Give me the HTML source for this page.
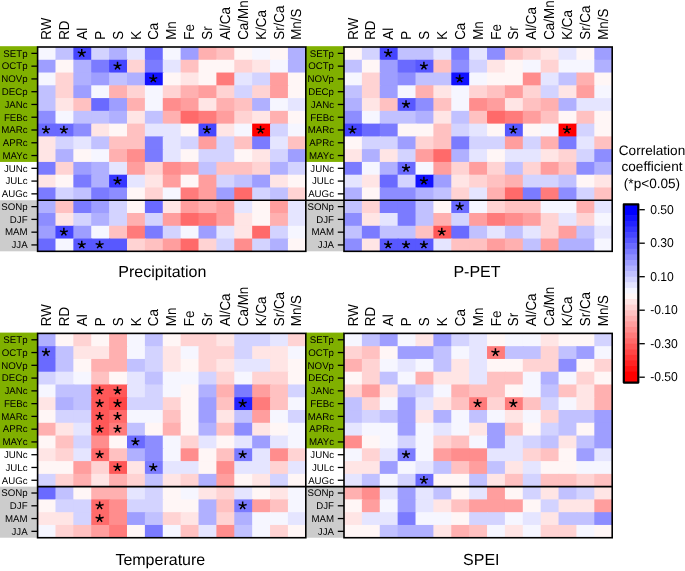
<!DOCTYPE html><html><head><meta charset="utf-8"><style>html,body{margin:0;padding:0;background:#fff;overflow:hidden}svg{display:block;will-change:transform;text-rendering:geometricPrecision;font-family:"Liberation Sans",sans-serif}</style></head><body><svg width="685" height="571" viewBox="0 0 685 571" font-family="&quot;Liberation Sans&quot;, sans-serif"><rect x="0.00" y="46.20" width="37.60" height="115.73" fill="#80b000"/><rect x="0.00" y="200.24" width="37.60" height="51.08" fill="#cccccc"/><rect x="305.80" y="46.20" width="38.20" height="115.73" fill="#80b000"/><rect x="305.80" y="200.24" width="38.20" height="51.08" fill="#cccccc"/><rect x="0.00" y="332.60" width="37.60" height="115.73" fill="#80b000"/><rect x="0.00" y="486.64" width="37.60" height="51.08" fill="#cccccc"/><rect x="305.80" y="332.60" width="38.20" height="115.73" fill="#80b000"/><rect x="305.80" y="486.64" width="38.20" height="51.08" fill="#cccccc"/><g><rect x="37.60" y="47.00" width="18.88" height="13.77" fill="#f6f6ff"/><rect x="55.48" y="47.00" width="18.88" height="13.77" fill="#c1c1ff"/><rect x="73.36" y="47.00" width="18.88" height="13.77" fill="#4646ff"/><rect x="91.24" y="47.00" width="18.88" height="13.77" fill="#d3d3ff"/><rect x="109.12" y="47.00" width="18.88" height="13.77" fill="#b0b0ff"/><rect x="127.00" y="47.00" width="18.88" height="13.77" fill="#e5e5ff"/><rect x="144.88" y="47.00" width="18.88" height="13.77" fill="#6a6aff"/><rect x="162.76" y="47.00" width="18.88" height="13.77" fill="#f6f6ff"/><rect x="180.64" y="47.00" width="18.88" height="13.77" fill="#9e9eff"/><rect x="198.52" y="47.00" width="18.88" height="13.77" fill="#ffb0b0"/><rect x="216.40" y="47.00" width="18.88" height="13.77" fill="#ffc1c1"/><rect x="234.28" y="47.00" width="18.88" height="13.77" fill="#fff6f6"/><rect x="252.16" y="47.00" width="18.88" height="13.77" fill="#f6f6ff"/><rect x="270.04" y="47.00" width="18.88" height="13.77" fill="#fff6f6"/><rect x="287.92" y="47.00" width="17.88" height="13.77" fill="#b0b0ff"/><rect x="37.60" y="59.77" width="18.88" height="13.77" fill="#9e9eff"/><rect x="55.48" y="59.77" width="18.88" height="13.77" fill="#fff6f6"/><rect x="73.36" y="59.77" width="18.88" height="13.77" fill="#b0b0ff"/><rect x="91.24" y="59.77" width="18.88" height="13.77" fill="#7b7bff"/><rect x="109.12" y="59.77" width="18.88" height="13.77" fill="#4646ff"/><rect x="127.00" y="59.77" width="18.88" height="13.77" fill="#ffd3d3"/><rect x="144.88" y="59.77" width="18.88" height="13.77" fill="#7b7bff"/><rect x="162.76" y="59.77" width="18.88" height="13.77" fill="#e5e5ff"/><rect x="180.64" y="59.77" width="18.88" height="13.77" fill="#ffc1c1"/><rect x="198.52" y="59.77" width="18.88" height="13.77" fill="#fff6f6"/><rect x="216.40" y="59.77" width="18.88" height="13.77" fill="#fff6f6"/><rect x="234.28" y="59.77" width="18.88" height="13.77" fill="#ffd3d3"/><rect x="252.16" y="59.77" width="18.88" height="13.77" fill="#ffe5e5"/><rect x="270.04" y="59.77" width="18.88" height="13.77" fill="#f6f6ff"/><rect x="287.92" y="59.77" width="17.88" height="13.77" fill="#b0b0ff"/><rect x="37.60" y="72.54" width="18.88" height="13.77" fill="#f6f6ff"/><rect x="55.48" y="72.54" width="18.88" height="13.77" fill="#ffd3d3"/><rect x="73.36" y="72.54" width="18.88" height="13.77" fill="#b0b0ff"/><rect x="91.24" y="72.54" width="18.88" height="13.77" fill="#9e9eff"/><rect x="109.12" y="72.54" width="18.88" height="13.77" fill="#c1c1ff"/><rect x="127.00" y="72.54" width="18.88" height="13.77" fill="#b0b0ff"/><rect x="144.88" y="72.54" width="18.88" height="13.77" fill="#1212ff"/><rect x="162.76" y="72.54" width="18.88" height="13.77" fill="#fff6f6"/><rect x="180.64" y="72.54" width="18.88" height="13.77" fill="#ffe5e5"/><rect x="198.52" y="72.54" width="18.88" height="13.77" fill="#fff6f6"/><rect x="216.40" y="72.54" width="18.88" height="13.77" fill="#ff7b7b"/><rect x="234.28" y="72.54" width="18.88" height="13.77" fill="#e5e5ff"/><rect x="252.16" y="72.54" width="18.88" height="13.77" fill="#d3d3ff"/><rect x="270.04" y="72.54" width="18.88" height="13.77" fill="#ff9e9e"/><rect x="287.92" y="72.54" width="17.88" height="13.77" fill="#fff6f6"/><rect x="37.60" y="85.31" width="18.88" height="13.77" fill="#c1c1ff"/><rect x="55.48" y="85.31" width="18.88" height="13.77" fill="#ffd3d3"/><rect x="73.36" y="85.31" width="18.88" height="13.77" fill="#9e9eff"/><rect x="91.24" y="85.31" width="18.88" height="13.77" fill="#f6f6ff"/><rect x="109.12" y="85.31" width="18.88" height="13.77" fill="#ffb0b0"/><rect x="127.00" y="85.31" width="18.88" height="13.77" fill="#ffd3d3"/><rect x="144.88" y="85.31" width="18.88" height="13.77" fill="#f6f6ff"/><rect x="162.76" y="85.31" width="18.88" height="13.77" fill="#ffd3d3"/><rect x="180.64" y="85.31" width="18.88" height="13.77" fill="#ffb0b0"/><rect x="198.52" y="85.31" width="18.88" height="13.77" fill="#ff9e9e"/><rect x="216.40" y="85.31" width="18.88" height="13.77" fill="#ffd3d3"/><rect x="234.28" y="85.31" width="18.88" height="13.77" fill="#d3d3ff"/><rect x="252.16" y="85.31" width="18.88" height="13.77" fill="#ffd3d3"/><rect x="270.04" y="85.31" width="18.88" height="13.77" fill="#ff9e9e"/><rect x="287.92" y="85.31" width="17.88" height="13.77" fill="#fff6f6"/><rect x="37.60" y="98.08" width="18.88" height="13.77" fill="#c1c1ff"/><rect x="55.48" y="98.08" width="18.88" height="13.77" fill="#ffe5e5"/><rect x="73.36" y="98.08" width="18.88" height="13.77" fill="#ffc1c1"/><rect x="91.24" y="98.08" width="18.88" height="13.77" fill="#6a6aff"/><rect x="109.12" y="98.08" width="18.88" height="13.77" fill="#9e9eff"/><rect x="127.00" y="98.08" width="18.88" height="13.77" fill="#ffb0b0"/><rect x="144.88" y="98.08" width="18.88" height="13.77" fill="#f6f6ff"/><rect x="162.76" y="98.08" width="18.88" height="13.77" fill="#ff8d8d"/><rect x="180.64" y="98.08" width="18.88" height="13.77" fill="#ff9e9e"/><rect x="198.52" y="98.08" width="18.88" height="13.77" fill="#ffe5e5"/><rect x="216.40" y="98.08" width="18.88" height="13.77" fill="#ffb0b0"/><rect x="234.28" y="98.08" width="18.88" height="13.77" fill="#ffc1c1"/><rect x="252.16" y="98.08" width="18.88" height="13.77" fill="#b0b0ff"/><rect x="270.04" y="98.08" width="18.88" height="13.77" fill="#f6f6ff"/><rect x="287.92" y="98.08" width="17.88" height="13.77" fill="#e5e5ff"/><rect x="37.60" y="110.85" width="18.88" height="13.77" fill="#8d8dff"/><rect x="55.48" y="110.85" width="18.88" height="13.77" fill="#f6f6ff"/><rect x="73.36" y="110.85" width="18.88" height="13.77" fill="#c1c1ff"/><rect x="91.24" y="110.85" width="18.88" height="13.77" fill="#c1c1ff"/><rect x="109.12" y="110.85" width="18.88" height="13.77" fill="#b0b0ff"/><rect x="127.00" y="110.85" width="18.88" height="13.77" fill="#ffe5e5"/><rect x="144.88" y="110.85" width="18.88" height="13.77" fill="#c1c1ff"/><rect x="162.76" y="110.85" width="18.88" height="13.77" fill="#ffb0b0"/><rect x="180.64" y="110.85" width="18.88" height="13.77" fill="#ff6a6a"/><rect x="198.52" y="110.85" width="18.88" height="13.77" fill="#ff7b7b"/><rect x="216.40" y="110.85" width="18.88" height="13.77" fill="#ff9e9e"/><rect x="234.28" y="110.85" width="18.88" height="13.77" fill="#ffd3d3"/><rect x="252.16" y="110.85" width="18.88" height="13.77" fill="#ffe5e5"/><rect x="270.04" y="110.85" width="18.88" height="13.77" fill="#ffb0b0"/><rect x="287.92" y="110.85" width="17.88" height="13.77" fill="#fff6f6"/><rect x="37.60" y="123.62" width="18.88" height="13.77" fill="#6a6aff"/><rect x="55.48" y="123.62" width="18.88" height="13.77" fill="#6a6aff"/><rect x="73.36" y="123.62" width="18.88" height="13.77" fill="#8d8dff"/><rect x="91.24" y="123.62" width="18.88" height="13.77" fill="#ffe5e5"/><rect x="109.12" y="123.62" width="18.88" height="13.77" fill="#fff6f6"/><rect x="127.00" y="123.62" width="18.88" height="13.77" fill="#ffc1c1"/><rect x="144.88" y="123.62" width="18.88" height="13.77" fill="#e5e5ff"/><rect x="162.76" y="123.62" width="18.88" height="13.77" fill="#e5e5ff"/><rect x="180.64" y="123.62" width="18.88" height="13.77" fill="#fff6f6"/><rect x="198.52" y="123.62" width="18.88" height="13.77" fill="#4646ff"/><rect x="216.40" y="123.62" width="18.88" height="13.77" fill="#ffe5e5"/><rect x="234.28" y="123.62" width="18.88" height="13.77" fill="#f6f6ff"/><rect x="252.16" y="123.62" width="18.88" height="13.77" fill="#ff0000"/><rect x="270.04" y="123.62" width="18.88" height="13.77" fill="#d3d3ff"/><rect x="287.92" y="123.62" width="17.88" height="13.77" fill="#f6f6ff"/><rect x="37.60" y="136.39" width="18.88" height="13.77" fill="#ffe5e5"/><rect x="55.48" y="136.39" width="18.88" height="13.77" fill="#d3d3ff"/><rect x="73.36" y="136.39" width="18.88" height="13.77" fill="#e5e5ff"/><rect x="91.24" y="136.39" width="18.88" height="13.77" fill="#c1c1ff"/><rect x="109.12" y="136.39" width="18.88" height="13.77" fill="#ffc1c1"/><rect x="127.00" y="136.39" width="18.88" height="13.77" fill="#ffc1c1"/><rect x="144.88" y="136.39" width="18.88" height="13.77" fill="#7b7bff"/><rect x="162.76" y="136.39" width="18.88" height="13.77" fill="#e5e5ff"/><rect x="180.64" y="136.39" width="18.88" height="13.77" fill="#d3d3ff"/><rect x="198.52" y="136.39" width="18.88" height="13.77" fill="#ff9e9e"/><rect x="216.40" y="136.39" width="18.88" height="13.77" fill="#d3d3ff"/><rect x="234.28" y="136.39" width="18.88" height="13.77" fill="#ffc1c1"/><rect x="252.16" y="136.39" width="18.88" height="13.77" fill="#7b7bff"/><rect x="270.04" y="136.39" width="18.88" height="13.77" fill="#e5e5ff"/><rect x="287.92" y="136.39" width="17.88" height="13.77" fill="#ffc1c1"/><rect x="37.60" y="149.16" width="18.88" height="13.77" fill="#ffe5e5"/><rect x="55.48" y="149.16" width="18.88" height="13.77" fill="#b0b0ff"/><rect x="73.36" y="149.16" width="18.88" height="13.77" fill="#fff6f6"/><rect x="91.24" y="149.16" width="18.88" height="13.77" fill="#f6f6ff"/><rect x="109.12" y="149.16" width="18.88" height="13.77" fill="#ffb0b0"/><rect x="127.00" y="149.16" width="18.88" height="13.77" fill="#ff8d8d"/><rect x="144.88" y="149.16" width="18.88" height="13.77" fill="#7b7bff"/><rect x="162.76" y="149.16" width="18.88" height="13.77" fill="#e5e5ff"/><rect x="180.64" y="149.16" width="18.88" height="13.77" fill="#fff6f6"/><rect x="198.52" y="149.16" width="18.88" height="13.77" fill="#d3d3ff"/><rect x="216.40" y="149.16" width="18.88" height="13.77" fill="#d3d3ff"/><rect x="234.28" y="149.16" width="18.88" height="13.77" fill="#fff6f6"/><rect x="252.16" y="149.16" width="18.88" height="13.77" fill="#ffe5e5"/><rect x="270.04" y="149.16" width="18.88" height="13.77" fill="#d3d3ff"/><rect x="287.92" y="149.16" width="17.88" height="13.77" fill="#9e9eff"/><rect x="37.60" y="161.93" width="18.88" height="13.77" fill="#7b7bff"/><rect x="55.48" y="161.93" width="18.88" height="13.77" fill="#ffd3d3"/><rect x="73.36" y="161.93" width="18.88" height="13.77" fill="#9e9eff"/><rect x="91.24" y="161.93" width="18.88" height="13.77" fill="#b0b0ff"/><rect x="109.12" y="161.93" width="18.88" height="13.77" fill="#e5e5ff"/><rect x="127.00" y="161.93" width="18.88" height="13.77" fill="#ff9e9e"/><rect x="144.88" y="161.93" width="18.88" height="13.77" fill="#ffd3d3"/><rect x="162.76" y="161.93" width="18.88" height="13.77" fill="#ff8d8d"/><rect x="180.64" y="161.93" width="18.88" height="13.77" fill="#ff9e9e"/><rect x="198.52" y="161.93" width="18.88" height="13.77" fill="#c1c1ff"/><rect x="216.40" y="161.93" width="18.88" height="13.77" fill="#ffc1c1"/><rect x="234.28" y="161.93" width="18.88" height="13.77" fill="#ffc1c1"/><rect x="252.16" y="161.93" width="18.88" height="13.77" fill="#ffd3d3"/><rect x="270.04" y="161.93" width="18.88" height="13.77" fill="#b0b0ff"/><rect x="287.92" y="161.93" width="17.88" height="13.77" fill="#d3d3ff"/><rect x="37.60" y="174.70" width="18.88" height="13.77" fill="#ffe5e5"/><rect x="55.48" y="174.70" width="18.88" height="13.77" fill="#fff6f6"/><rect x="73.36" y="174.70" width="18.88" height="13.77" fill="#7b7bff"/><rect x="91.24" y="174.70" width="18.88" height="13.77" fill="#b0b0ff"/><rect x="109.12" y="174.70" width="18.88" height="13.77" fill="#3535ff"/><rect x="127.00" y="174.70" width="18.88" height="13.77" fill="#e5e5ff"/><rect x="144.88" y="174.70" width="18.88" height="13.77" fill="#ffe5e5"/><rect x="162.76" y="174.70" width="18.88" height="13.77" fill="#ff9e9e"/><rect x="180.64" y="174.70" width="18.88" height="13.77" fill="#fff6f6"/><rect x="198.52" y="174.70" width="18.88" height="13.77" fill="#ff9e9e"/><rect x="216.40" y="174.70" width="18.88" height="13.77" fill="#d3d3ff"/><rect x="234.28" y="174.70" width="18.88" height="13.77" fill="#c1c1ff"/><rect x="252.16" y="174.70" width="18.88" height="13.77" fill="#9e9eff"/><rect x="270.04" y="174.70" width="18.88" height="13.77" fill="#ffe5e5"/><rect x="287.92" y="174.70" width="17.88" height="13.77" fill="#fff6f6"/><rect x="37.60" y="187.47" width="18.88" height="13.77" fill="#7b7bff"/><rect x="55.48" y="187.47" width="18.88" height="13.77" fill="#d3d3ff"/><rect x="73.36" y="187.47" width="18.88" height="13.77" fill="#c1c1ff"/><rect x="91.24" y="187.47" width="18.88" height="13.77" fill="#7b7bff"/><rect x="109.12" y="187.47" width="18.88" height="13.77" fill="#8d8dff"/><rect x="127.00" y="187.47" width="18.88" height="13.77" fill="#fff6f6"/><rect x="144.88" y="187.47" width="18.88" height="13.77" fill="#ffd3d3"/><rect x="162.76" y="187.47" width="18.88" height="13.77" fill="#f6f6ff"/><rect x="180.64" y="187.47" width="18.88" height="13.77" fill="#ff7b7b"/><rect x="198.52" y="187.47" width="18.88" height="13.77" fill="#ff9e9e"/><rect x="216.40" y="187.47" width="18.88" height="13.77" fill="#9e9eff"/><rect x="234.28" y="187.47" width="18.88" height="13.77" fill="#ff6a6a"/><rect x="252.16" y="187.47" width="18.88" height="13.77" fill="#d3d3ff"/><rect x="270.04" y="187.47" width="18.88" height="13.77" fill="#c1c1ff"/><rect x="287.92" y="187.47" width="17.88" height="13.77" fill="#ffd3d3"/><rect x="37.60" y="200.24" width="18.88" height="13.77" fill="#b0b0ff"/><rect x="55.48" y="200.24" width="18.88" height="13.77" fill="#ffc1c1"/><rect x="73.36" y="200.24" width="18.88" height="13.77" fill="#7b7bff"/><rect x="91.24" y="200.24" width="18.88" height="13.77" fill="#9e9eff"/><rect x="109.12" y="200.24" width="18.88" height="13.77" fill="#d3d3ff"/><rect x="127.00" y="200.24" width="18.88" height="13.77" fill="#fff6f6"/><rect x="144.88" y="200.24" width="18.88" height="13.77" fill="#6a6aff"/><rect x="162.76" y="200.24" width="18.88" height="13.77" fill="#ffe5e5"/><rect x="180.64" y="200.24" width="18.88" height="13.77" fill="#ff9e9e"/><rect x="198.52" y="200.24" width="18.88" height="13.77" fill="#ffb0b0"/><rect x="216.40" y="200.24" width="18.88" height="13.77" fill="#ff9e9e"/><rect x="234.28" y="200.24" width="18.88" height="13.77" fill="#e5e5ff"/><rect x="252.16" y="200.24" width="18.88" height="13.77" fill="#fff6f6"/><rect x="270.04" y="200.24" width="18.88" height="13.77" fill="#ff9e9e"/><rect x="287.92" y="200.24" width="17.88" height="13.77" fill="#e5e5ff"/><rect x="37.60" y="213.01" width="18.88" height="13.77" fill="#8d8dff"/><rect x="55.48" y="213.01" width="18.88" height="13.77" fill="#ffe5e5"/><rect x="73.36" y="213.01" width="18.88" height="13.77" fill="#d3d3ff"/><rect x="91.24" y="213.01" width="18.88" height="13.77" fill="#b0b0ff"/><rect x="109.12" y="213.01" width="18.88" height="13.77" fill="#d3d3ff"/><rect x="127.00" y="213.01" width="18.88" height="13.77" fill="#ffb0b0"/><rect x="144.88" y="213.01" width="18.88" height="13.77" fill="#d3d3ff"/><rect x="162.76" y="213.01" width="18.88" height="13.77" fill="#ff9e9e"/><rect x="180.64" y="213.01" width="18.88" height="13.77" fill="#ff6a6a"/><rect x="198.52" y="213.01" width="18.88" height="13.77" fill="#ff7b7b"/><rect x="216.40" y="213.01" width="18.88" height="13.77" fill="#ff9e9e"/><rect x="234.28" y="213.01" width="18.88" height="13.77" fill="#ffe5e5"/><rect x="252.16" y="213.01" width="18.88" height="13.77" fill="#fff6f6"/><rect x="270.04" y="213.01" width="18.88" height="13.77" fill="#ffb0b0"/><rect x="287.92" y="213.01" width="17.88" height="13.77" fill="#e5e5ff"/><rect x="37.60" y="225.78" width="18.88" height="13.77" fill="#9e9eff"/><rect x="55.48" y="225.78" width="18.88" height="13.77" fill="#4646ff"/><rect x="73.36" y="225.78" width="18.88" height="13.77" fill="#9e9eff"/><rect x="91.24" y="225.78" width="18.88" height="13.77" fill="#f6f6ff"/><rect x="109.12" y="225.78" width="18.88" height="13.77" fill="#ffc1c1"/><rect x="127.00" y="225.78" width="18.88" height="13.77" fill="#ff7b7b"/><rect x="144.88" y="225.78" width="18.88" height="13.77" fill="#7b7bff"/><rect x="162.76" y="225.78" width="18.88" height="13.77" fill="#d3d3ff"/><rect x="180.64" y="225.78" width="18.88" height="13.77" fill="#f6f6ff"/><rect x="198.52" y="225.78" width="18.88" height="13.77" fill="#9e9eff"/><rect x="216.40" y="225.78" width="18.88" height="13.77" fill="#e5e5ff"/><rect x="234.28" y="225.78" width="18.88" height="13.77" fill="#ffe5e5"/><rect x="252.16" y="225.78" width="18.88" height="13.77" fill="#ff6a6a"/><rect x="270.04" y="225.78" width="18.88" height="13.77" fill="#d3d3ff"/><rect x="287.92" y="225.78" width="17.88" height="13.77" fill="#f6f6ff"/><rect x="37.60" y="238.55" width="18.88" height="12.77" fill="#6a6aff"/><rect x="55.48" y="238.55" width="18.88" height="12.77" fill="#f6f6ff"/><rect x="73.36" y="238.55" width="18.88" height="12.77" fill="#5858ff"/><rect x="91.24" y="238.55" width="18.88" height="12.77" fill="#5858ff"/><rect x="109.12" y="238.55" width="18.88" height="12.77" fill="#5858ff"/><rect x="127.00" y="238.55" width="18.88" height="12.77" fill="#ffd3d3"/><rect x="144.88" y="238.55" width="18.88" height="12.77" fill="#ffc1c1"/><rect x="162.76" y="238.55" width="18.88" height="12.77" fill="#ff9e9e"/><rect x="180.64" y="238.55" width="18.88" height="12.77" fill="#ff6a6a"/><rect x="198.52" y="238.55" width="18.88" height="12.77" fill="#ffd3d3"/><rect x="216.40" y="238.55" width="18.88" height="12.77" fill="#d3d3ff"/><rect x="234.28" y="238.55" width="18.88" height="12.77" fill="#ff8d8d"/><rect x="252.16" y="238.55" width="18.88" height="12.77" fill="#d3d3ff"/><rect x="270.04" y="238.55" width="18.88" height="12.77" fill="#b0b0ff"/><rect x="287.92" y="238.55" width="17.88" height="12.77" fill="#fff6f6"/></g><line x1="37.60" y1="200.24" x2="344.00" y2="200.24" stroke="#000" stroke-width="1.7"/><rect x="37.60" y="47.00" width="268.20" height="204.32" fill="none" stroke="#000" stroke-width="1.6"/><path d="M81.75 53.23L81.75 49.09M81.75 53.23L77.76 52.09M81.75 53.23L79.31 56.59M81.75 53.23L84.19 56.59M81.75 53.23L85.74 52.09" stroke="#000" stroke-width="1.5" fill="none"/><circle cx="81.75" cy="53.23" r="1.25"/><path d="M117.51 66.00L117.51 61.85M117.51 66.00L113.52 64.86M117.51 66.00L115.07 69.36M117.51 66.00L119.95 69.36M117.51 66.00L121.50 64.86" stroke="#000" stroke-width="1.5" fill="none"/><circle cx="117.51" cy="66.00" r="1.25"/><path d="M153.27 78.77L153.27 74.62M153.27 78.77L149.28 77.63M153.27 78.77L150.83 82.13M153.27 78.77L155.71 82.13M153.27 78.77L157.26 77.63" stroke="#000" stroke-width="1.5" fill="none"/><circle cx="153.27" cy="78.77" r="1.25"/><path d="M45.99 129.85L45.99 125.70M45.99 129.85L42.00 128.71M45.99 129.85L43.55 133.21M45.99 129.85L48.43 133.21M45.99 129.85L49.98 128.71" stroke="#000" stroke-width="1.5" fill="none"/><circle cx="45.99" cy="129.85" r="1.25"/><path d="M63.87 129.85L63.87 125.70M63.87 129.85L59.88 128.71M63.87 129.85L61.43 133.21M63.87 129.85L66.31 133.21M63.87 129.85L67.86 128.71" stroke="#000" stroke-width="1.5" fill="none"/><circle cx="63.87" cy="129.85" r="1.25"/><path d="M206.91 129.85L206.91 125.70M206.91 129.85L202.92 128.71M206.91 129.85L204.47 133.21M206.91 129.85L209.35 133.21M206.91 129.85L210.90 128.71" stroke="#000" stroke-width="1.5" fill="none"/><circle cx="206.91" cy="129.85" r="1.25"/><path d="M260.55 129.85L260.55 125.70M260.55 129.85L256.56 128.71M260.55 129.85L258.11 133.21M260.55 129.85L262.99 133.21M260.55 129.85L264.54 128.71" stroke="#000" stroke-width="1.5" fill="none"/><circle cx="260.55" cy="129.85" r="1.25"/><path d="M117.51 180.93L117.51 176.78M117.51 180.93L113.52 179.79M117.51 180.93L115.07 184.29M117.51 180.93L119.95 184.29M117.51 180.93L121.50 179.79" stroke="#000" stroke-width="1.5" fill="none"/><circle cx="117.51" cy="180.93" r="1.25"/><path d="M63.87 232.01L63.87 227.86M63.87 232.01L59.88 230.87M63.87 232.01L61.43 235.37M63.87 232.01L66.31 235.37M63.87 232.01L67.86 230.87" stroke="#000" stroke-width="1.5" fill="none"/><circle cx="63.87" cy="232.01" r="1.25"/><path d="M81.75 244.78L81.75 240.63M81.75 244.78L77.76 243.64M81.75 244.78L79.31 248.14M81.75 244.78L84.19 248.14M81.75 244.78L85.74 243.64" stroke="#000" stroke-width="1.5" fill="none"/><circle cx="81.75" cy="244.78" r="1.25"/><path d="M99.63 244.78L99.63 240.63M99.63 244.78L95.64 243.64M99.63 244.78L97.19 248.14M99.63 244.78L102.07 248.14M99.63 244.78L103.62 243.64" stroke="#000" stroke-width="1.5" fill="none"/><circle cx="99.63" cy="244.78" r="1.25"/><line x1="31.40" y1="53.38" x2="37.60" y2="53.38" stroke="#000" stroke-width="1.3"/><text transform="translate(27.60,56.68)" font-size="9.7" text-anchor="end">SETp</text><line x1="31.40" y1="66.16" x2="37.60" y2="66.16" stroke="#000" stroke-width="1.3"/><text transform="translate(27.60,69.45)" font-size="9.7" text-anchor="end">OCTp</text><line x1="31.40" y1="78.92" x2="37.60" y2="78.92" stroke="#000" stroke-width="1.3"/><text transform="translate(27.60,82.22)" font-size="9.7" text-anchor="end">NOVp</text><line x1="31.40" y1="91.70" x2="37.60" y2="91.70" stroke="#000" stroke-width="1.3"/><text transform="translate(27.60,95.00)" font-size="9.7" text-anchor="end">DECp</text><line x1="31.40" y1="104.47" x2="37.60" y2="104.47" stroke="#000" stroke-width="1.3"/><text transform="translate(27.60,107.77)" font-size="9.7" text-anchor="end">JANc</text><line x1="31.40" y1="117.23" x2="37.60" y2="117.23" stroke="#000" stroke-width="1.3"/><text transform="translate(27.60,120.53)" font-size="9.7" text-anchor="end">FEBc</text><line x1="31.40" y1="130.00" x2="37.60" y2="130.00" stroke="#000" stroke-width="1.3"/><text transform="translate(27.60,133.31)" font-size="9.7" text-anchor="end">MARc</text><line x1="31.40" y1="142.77" x2="37.60" y2="142.77" stroke="#000" stroke-width="1.3"/><text transform="translate(27.60,146.07)" font-size="9.7" text-anchor="end">APRc</text><line x1="31.40" y1="155.54" x2="37.60" y2="155.54" stroke="#000" stroke-width="1.3"/><text transform="translate(27.60,158.84)" font-size="9.7" text-anchor="end">MAYc</text><line x1="31.40" y1="168.31" x2="37.60" y2="168.31" stroke="#000" stroke-width="1.3"/><text transform="translate(27.60,171.62)" font-size="9.7" text-anchor="end">JUNc</text><line x1="31.40" y1="181.08" x2="37.60" y2="181.08" stroke="#000" stroke-width="1.3"/><text transform="translate(27.60,184.38)" font-size="9.7" text-anchor="end">JULc</text><line x1="31.40" y1="193.85" x2="37.60" y2="193.85" stroke="#000" stroke-width="1.3"/><text transform="translate(27.60,197.16)" font-size="9.7" text-anchor="end">AUGc</text><line x1="31.40" y1="206.62" x2="37.60" y2="206.62" stroke="#000" stroke-width="1.3"/><text transform="translate(27.60,209.93)" font-size="9.7" text-anchor="end">SONp</text><line x1="31.40" y1="219.39" x2="37.60" y2="219.39" stroke="#000" stroke-width="1.3"/><text transform="translate(27.60,222.69)" font-size="9.7" text-anchor="end">DJF</text><line x1="31.40" y1="232.16" x2="37.60" y2="232.16" stroke="#000" stroke-width="1.3"/><text transform="translate(27.60,235.47)" font-size="9.7" text-anchor="end">MAM</text><line x1="31.40" y1="244.93" x2="37.60" y2="244.93" stroke="#000" stroke-width="1.3"/><text transform="translate(27.60,248.23)" font-size="9.7" text-anchor="end">JJA</text><text transform="translate(51.14,39.80) rotate(-90) scale(1,1.08)" font-size="13.4">RW</text><text transform="translate(69.02,39.80) rotate(-90) scale(1,1.08)" font-size="13.4">RD</text><text transform="translate(86.90,39.80) rotate(-90) scale(1,1.08)" font-size="13.4">Al</text><text transform="translate(104.78,39.80) rotate(-90) scale(1,1.08)" font-size="13.4">P</text><text transform="translate(122.66,39.80) rotate(-90) scale(1,1.08)" font-size="13.4">S</text><text transform="translate(140.54,39.80) rotate(-90) scale(1,1.08)" font-size="13.4">K</text><text transform="translate(158.42,39.80) rotate(-90) scale(1,1.08)" font-size="13.4">Ca</text><text transform="translate(176.30,39.80) rotate(-90) scale(1,1.08)" font-size="13.4">Mn</text><text transform="translate(194.18,39.80) rotate(-90) scale(1,1.08)" font-size="13.4">Fe</text><text transform="translate(212.06,39.80) rotate(-90) scale(1,1.08)" font-size="13.4">Sr</text><text transform="translate(229.94,39.80) rotate(-90) scale(1,1.08)" font-size="13.4">Al/Ca</text><text transform="translate(247.82,39.80) rotate(-90) scale(1,1.08)" font-size="13.4">Ca/Mn</text><text transform="translate(265.70,39.80) rotate(-90) scale(1,1.08)" font-size="13.4">K/Ca</text><text transform="translate(283.58,39.80) rotate(-90) scale(1,1.08)" font-size="13.4">Sr/Ca</text><text transform="translate(301.46,39.80) rotate(-90) scale(1,1.08)" font-size="13.4">Mn/S</text><text transform="translate(162.30,277.30)" font-size="16" text-anchor="middle">Precipitation</text><g><rect x="344.00" y="47.00" width="18.88" height="13.77" fill="#fff6f6"/><rect x="361.88" y="47.00" width="18.88" height="13.77" fill="#d3d3ff"/><rect x="379.76" y="47.00" width="18.88" height="13.77" fill="#4646ff"/><rect x="397.64" y="47.00" width="18.88" height="13.77" fill="#c1c1ff"/><rect x="415.52" y="47.00" width="18.88" height="13.77" fill="#c1c1ff"/><rect x="433.40" y="47.00" width="18.88" height="13.77" fill="#e5e5ff"/><rect x="451.28" y="47.00" width="18.88" height="13.77" fill="#7b7bff"/><rect x="469.16" y="47.00" width="18.88" height="13.77" fill="#e5e5ff"/><rect x="487.04" y="47.00" width="18.88" height="13.77" fill="#8d8dff"/><rect x="504.92" y="47.00" width="18.88" height="13.77" fill="#ffc1c1"/><rect x="522.80" y="47.00" width="18.88" height="13.77" fill="#ffd3d3"/><rect x="540.68" y="47.00" width="18.88" height="13.77" fill="#ffe5e5"/><rect x="558.56" y="47.00" width="18.88" height="13.77" fill="#e5e5ff"/><rect x="576.44" y="47.00" width="18.88" height="13.77" fill="#fff6f6"/><rect x="594.32" y="47.00" width="17.88" height="13.77" fill="#9e9eff"/><rect x="344.00" y="59.77" width="18.88" height="13.77" fill="#c1c1ff"/><rect x="361.88" y="59.77" width="18.88" height="13.77" fill="#fff6f6"/><rect x="379.76" y="59.77" width="18.88" height="13.77" fill="#9e9eff"/><rect x="397.64" y="59.77" width="18.88" height="13.77" fill="#6a6aff"/><rect x="415.52" y="59.77" width="18.88" height="13.77" fill="#5858ff"/><rect x="433.40" y="59.77" width="18.88" height="13.77" fill="#ffc1c1"/><rect x="451.28" y="59.77" width="18.88" height="13.77" fill="#8d8dff"/><rect x="469.16" y="59.77" width="18.88" height="13.77" fill="#d3d3ff"/><rect x="487.04" y="59.77" width="18.88" height="13.77" fill="#ffe5e5"/><rect x="504.92" y="59.77" width="18.88" height="13.77" fill="#fff6f6"/><rect x="522.80" y="59.77" width="18.88" height="13.77" fill="#f6f6ff"/><rect x="540.68" y="59.77" width="18.88" height="13.77" fill="#ffd3d3"/><rect x="558.56" y="59.77" width="18.88" height="13.77" fill="#f6f6ff"/><rect x="576.44" y="59.77" width="18.88" height="13.77" fill="#f6f6ff"/><rect x="594.32" y="59.77" width="17.88" height="13.77" fill="#b0b0ff"/><rect x="344.00" y="72.54" width="18.88" height="13.77" fill="#f6f6ff"/><rect x="361.88" y="72.54" width="18.88" height="13.77" fill="#ffd3d3"/><rect x="379.76" y="72.54" width="18.88" height="13.77" fill="#9e9eff"/><rect x="397.64" y="72.54" width="18.88" height="13.77" fill="#8d8dff"/><rect x="415.52" y="72.54" width="18.88" height="13.77" fill="#c1c1ff"/><rect x="433.40" y="72.54" width="18.88" height="13.77" fill="#c1c1ff"/><rect x="451.28" y="72.54" width="18.88" height="13.77" fill="#1212ff"/><rect x="469.16" y="72.54" width="18.88" height="13.77" fill="#f6f6ff"/><rect x="487.04" y="72.54" width="18.88" height="13.77" fill="#fff6f6"/><rect x="504.92" y="72.54" width="18.88" height="13.77" fill="#fff6f6"/><rect x="522.80" y="72.54" width="18.88" height="13.77" fill="#ff8d8d"/><rect x="540.68" y="72.54" width="18.88" height="13.77" fill="#e5e5ff"/><rect x="558.56" y="72.54" width="18.88" height="13.77" fill="#c1c1ff"/><rect x="576.44" y="72.54" width="18.88" height="13.77" fill="#ffb0b0"/><rect x="594.32" y="72.54" width="17.88" height="13.77" fill="#fff6f6"/><rect x="344.00" y="85.31" width="18.88" height="13.77" fill="#c1c1ff"/><rect x="361.88" y="85.31" width="18.88" height="13.77" fill="#ffd3d3"/><rect x="379.76" y="85.31" width="18.88" height="13.77" fill="#9e9eff"/><rect x="397.64" y="85.31" width="18.88" height="13.77" fill="#f6f6ff"/><rect x="415.52" y="85.31" width="18.88" height="13.77" fill="#ffb0b0"/><rect x="433.40" y="85.31" width="18.88" height="13.77" fill="#ffe5e5"/><rect x="451.28" y="85.31" width="18.88" height="13.77" fill="#f6f6ff"/><rect x="469.16" y="85.31" width="18.88" height="13.77" fill="#ffd3d3"/><rect x="487.04" y="85.31" width="18.88" height="13.77" fill="#ffc1c1"/><rect x="504.92" y="85.31" width="18.88" height="13.77" fill="#ff9e9e"/><rect x="522.80" y="85.31" width="18.88" height="13.77" fill="#ffd3d3"/><rect x="540.68" y="85.31" width="18.88" height="13.77" fill="#d3d3ff"/><rect x="558.56" y="85.31" width="18.88" height="13.77" fill="#ffe5e5"/><rect x="576.44" y="85.31" width="18.88" height="13.77" fill="#ff9e9e"/><rect x="594.32" y="85.31" width="17.88" height="13.77" fill="#f6f6ff"/><rect x="344.00" y="98.08" width="18.88" height="13.77" fill="#b0b0ff"/><rect x="361.88" y="98.08" width="18.88" height="13.77" fill="#ffe5e5"/><rect x="379.76" y="98.08" width="18.88" height="13.77" fill="#ffc1c1"/><rect x="397.64" y="98.08" width="18.88" height="13.77" fill="#5858ff"/><rect x="415.52" y="98.08" width="18.88" height="13.77" fill="#8d8dff"/><rect x="433.40" y="98.08" width="18.88" height="13.77" fill="#ffc1c1"/><rect x="451.28" y="98.08" width="18.88" height="13.77" fill="#f6f6ff"/><rect x="469.16" y="98.08" width="18.88" height="13.77" fill="#ff8d8d"/><rect x="487.04" y="98.08" width="18.88" height="13.77" fill="#ff9e9e"/><rect x="504.92" y="98.08" width="18.88" height="13.77" fill="#ffe5e5"/><rect x="522.80" y="98.08" width="18.88" height="13.77" fill="#ffc1c1"/><rect x="540.68" y="98.08" width="18.88" height="13.77" fill="#ffb0b0"/><rect x="558.56" y="98.08" width="18.88" height="13.77" fill="#b0b0ff"/><rect x="576.44" y="98.08" width="18.88" height="13.77" fill="#e5e5ff"/><rect x="594.32" y="98.08" width="17.88" height="13.77" fill="#e5e5ff"/><rect x="344.00" y="110.85" width="18.88" height="13.77" fill="#8d8dff"/><rect x="361.88" y="110.85" width="18.88" height="13.77" fill="#f6f6ff"/><rect x="379.76" y="110.85" width="18.88" height="13.77" fill="#c1c1ff"/><rect x="397.64" y="110.85" width="18.88" height="13.77" fill="#c1c1ff"/><rect x="415.52" y="110.85" width="18.88" height="13.77" fill="#b0b0ff"/><rect x="433.40" y="110.85" width="18.88" height="13.77" fill="#ffe5e5"/><rect x="451.28" y="110.85" width="18.88" height="13.77" fill="#c1c1ff"/><rect x="469.16" y="110.85" width="18.88" height="13.77" fill="#ffc1c1"/><rect x="487.04" y="110.85" width="18.88" height="13.77" fill="#ff6a6a"/><rect x="504.92" y="110.85" width="18.88" height="13.77" fill="#ff7b7b"/><rect x="522.80" y="110.85" width="18.88" height="13.77" fill="#ff9e9e"/><rect x="540.68" y="110.85" width="18.88" height="13.77" fill="#ffc1c1"/><rect x="558.56" y="110.85" width="18.88" height="13.77" fill="#fff6f6"/><rect x="576.44" y="110.85" width="18.88" height="13.77" fill="#ffc1c1"/><rect x="594.32" y="110.85" width="17.88" height="13.77" fill="#fff6f6"/><rect x="344.00" y="123.62" width="18.88" height="13.77" fill="#4646ff"/><rect x="361.88" y="123.62" width="18.88" height="13.77" fill="#6a6aff"/><rect x="379.76" y="123.62" width="18.88" height="13.77" fill="#7b7bff"/><rect x="397.64" y="123.62" width="18.88" height="13.77" fill="#fff6f6"/><rect x="415.52" y="123.62" width="18.88" height="13.77" fill="#fff6f6"/><rect x="433.40" y="123.62" width="18.88" height="13.77" fill="#ffc1c1"/><rect x="451.28" y="123.62" width="18.88" height="13.77" fill="#d3d3ff"/><rect x="469.16" y="123.62" width="18.88" height="13.77" fill="#e5e5ff"/><rect x="487.04" y="123.62" width="18.88" height="13.77" fill="#fff6f6"/><rect x="504.92" y="123.62" width="18.88" height="13.77" fill="#5858ff"/><rect x="522.80" y="123.62" width="18.88" height="13.77" fill="#fff6f6"/><rect x="540.68" y="123.62" width="18.88" height="13.77" fill="#f6f6ff"/><rect x="558.56" y="123.62" width="18.88" height="13.77" fill="#ff0000"/><rect x="576.44" y="123.62" width="18.88" height="13.77" fill="#d3d3ff"/><rect x="594.32" y="123.62" width="17.88" height="13.77" fill="#fff6f6"/><rect x="344.00" y="136.39" width="18.88" height="13.77" fill="#fff6f6"/><rect x="361.88" y="136.39" width="18.88" height="13.77" fill="#d3d3ff"/><rect x="379.76" y="136.39" width="18.88" height="13.77" fill="#d3d3ff"/><rect x="397.64" y="136.39" width="18.88" height="13.77" fill="#9e9eff"/><rect x="415.52" y="136.39" width="18.88" height="13.77" fill="#ffd3d3"/><rect x="433.40" y="136.39" width="18.88" height="13.77" fill="#ffc1c1"/><rect x="451.28" y="136.39" width="18.88" height="13.77" fill="#7b7bff"/><rect x="469.16" y="136.39" width="18.88" height="13.77" fill="#d3d3ff"/><rect x="487.04" y="136.39" width="18.88" height="13.77" fill="#d3d3ff"/><rect x="504.92" y="136.39" width="18.88" height="13.77" fill="#ff9e9e"/><rect x="522.80" y="136.39" width="18.88" height="13.77" fill="#d3d3ff"/><rect x="540.68" y="136.39" width="18.88" height="13.77" fill="#ffb0b0"/><rect x="558.56" y="136.39" width="18.88" height="13.77" fill="#7b7bff"/><rect x="576.44" y="136.39" width="18.88" height="13.77" fill="#e5e5ff"/><rect x="594.32" y="136.39" width="17.88" height="13.77" fill="#ffc1c1"/><rect x="344.00" y="149.16" width="18.88" height="13.77" fill="#ffe5e5"/><rect x="361.88" y="149.16" width="18.88" height="13.77" fill="#b0b0ff"/><rect x="379.76" y="149.16" width="18.88" height="13.77" fill="#ffe5e5"/><rect x="397.64" y="149.16" width="18.88" height="13.77" fill="#d3d3ff"/><rect x="415.52" y="149.16" width="18.88" height="13.77" fill="#ff9e9e"/><rect x="433.40" y="149.16" width="18.88" height="13.77" fill="#ff6a6a"/><rect x="451.28" y="149.16" width="18.88" height="13.77" fill="#b0b0ff"/><rect x="469.16" y="149.16" width="18.88" height="13.77" fill="#e5e5ff"/><rect x="487.04" y="149.16" width="18.88" height="13.77" fill="#fff6f6"/><rect x="504.92" y="149.16" width="18.88" height="13.77" fill="#e5e5ff"/><rect x="522.80" y="149.16" width="18.88" height="13.77" fill="#e5e5ff"/><rect x="540.68" y="149.16" width="18.88" height="13.77" fill="#ffe5e5"/><rect x="558.56" y="149.16" width="18.88" height="13.77" fill="#ffd3d3"/><rect x="576.44" y="149.16" width="18.88" height="13.77" fill="#d3d3ff"/><rect x="594.32" y="149.16" width="17.88" height="13.77" fill="#8d8dff"/><rect x="344.00" y="161.93" width="18.88" height="13.77" fill="#7b7bff"/><rect x="361.88" y="161.93" width="18.88" height="13.77" fill="#f6f6ff"/><rect x="379.76" y="161.93" width="18.88" height="13.77" fill="#b0b0ff"/><rect x="397.64" y="161.93" width="18.88" height="13.77" fill="#6a6aff"/><rect x="415.52" y="161.93" width="18.88" height="13.77" fill="#f6f6ff"/><rect x="433.40" y="161.93" width="18.88" height="13.77" fill="#ff9e9e"/><rect x="451.28" y="161.93" width="18.88" height="13.77" fill="#ffd3d3"/><rect x="469.16" y="161.93" width="18.88" height="13.77" fill="#ff9e9e"/><rect x="487.04" y="161.93" width="18.88" height="13.77" fill="#ffd3d3"/><rect x="504.92" y="161.93" width="18.88" height="13.77" fill="#c1c1ff"/><rect x="522.80" y="161.93" width="18.88" height="13.77" fill="#ffd3d3"/><rect x="540.68" y="161.93" width="18.88" height="13.77" fill="#ff9e9e"/><rect x="558.56" y="161.93" width="18.88" height="13.77" fill="#ffc1c1"/><rect x="576.44" y="161.93" width="18.88" height="13.77" fill="#8d8dff"/><rect x="594.32" y="161.93" width="17.88" height="13.77" fill="#b0b0ff"/><rect x="344.00" y="174.70" width="18.88" height="13.77" fill="#e5e5ff"/><rect x="361.88" y="174.70" width="18.88" height="13.77" fill="#ffe5e5"/><rect x="379.76" y="174.70" width="18.88" height="13.77" fill="#6a6aff"/><rect x="397.64" y="174.70" width="18.88" height="13.77" fill="#d3d3ff"/><rect x="415.52" y="174.70" width="18.88" height="13.77" fill="#1212ff"/><rect x="433.40" y="174.70" width="18.88" height="13.77" fill="#9e9eff"/><rect x="451.28" y="174.70" width="18.88" height="13.77" fill="#ffe5e5"/><rect x="469.16" y="174.70" width="18.88" height="13.77" fill="#ffd3d3"/><rect x="487.04" y="174.70" width="18.88" height="13.77" fill="#ffc1c1"/><rect x="504.92" y="174.70" width="18.88" height="13.77" fill="#ffb0b0"/><rect x="522.80" y="174.70" width="18.88" height="13.77" fill="#d3d3ff"/><rect x="540.68" y="174.70" width="18.88" height="13.77" fill="#d3d3ff"/><rect x="558.56" y="174.70" width="18.88" height="13.77" fill="#c1c1ff"/><rect x="576.44" y="174.70" width="18.88" height="13.77" fill="#fff6f6"/><rect x="594.32" y="174.70" width="17.88" height="13.77" fill="#ffe5e5"/><rect x="344.00" y="187.47" width="18.88" height="13.77" fill="#b0b0ff"/><rect x="361.88" y="187.47" width="18.88" height="13.77" fill="#fff6f6"/><rect x="379.76" y="187.47" width="18.88" height="13.77" fill="#8d8dff"/><rect x="397.64" y="187.47" width="18.88" height="13.77" fill="#8d8dff"/><rect x="415.52" y="187.47" width="18.88" height="13.77" fill="#b0b0ff"/><rect x="433.40" y="187.47" width="18.88" height="13.77" fill="#c1c1ff"/><rect x="451.28" y="187.47" width="18.88" height="13.77" fill="#ffd3d3"/><rect x="469.16" y="187.47" width="18.88" height="13.77" fill="#e5e5ff"/><rect x="487.04" y="187.47" width="18.88" height="13.77" fill="#ffb0b0"/><rect x="504.92" y="187.47" width="18.88" height="13.77" fill="#ff6a6a"/><rect x="522.80" y="187.47" width="18.88" height="13.77" fill="#7b7bff"/><rect x="540.68" y="187.47" width="18.88" height="13.77" fill="#ff7b7b"/><rect x="558.56" y="187.47" width="18.88" height="13.77" fill="#8d8dff"/><rect x="576.44" y="187.47" width="18.88" height="13.77" fill="#d3d3ff"/><rect x="594.32" y="187.47" width="17.88" height="13.77" fill="#ffc1c1"/><rect x="344.00" y="200.24" width="18.88" height="13.77" fill="#c1c1ff"/><rect x="361.88" y="200.24" width="18.88" height="13.77" fill="#ffd3d3"/><rect x="379.76" y="200.24" width="18.88" height="13.77" fill="#7b7bff"/><rect x="397.64" y="200.24" width="18.88" height="13.77" fill="#7b7bff"/><rect x="415.52" y="200.24" width="18.88" height="13.77" fill="#c1c1ff"/><rect x="433.40" y="200.24" width="18.88" height="13.77" fill="#fff6f6"/><rect x="451.28" y="200.24" width="18.88" height="13.77" fill="#6a6aff"/><rect x="469.16" y="200.24" width="18.88" height="13.77" fill="#f6f6ff"/><rect x="487.04" y="200.24" width="18.88" height="13.77" fill="#ffd3d3"/><rect x="504.92" y="200.24" width="18.88" height="13.77" fill="#ffc1c1"/><rect x="522.80" y="200.24" width="18.88" height="13.77" fill="#ffc1c1"/><rect x="540.68" y="200.24" width="18.88" height="13.77" fill="#f6f6ff"/><rect x="558.56" y="200.24" width="18.88" height="13.77" fill="#f6f6ff"/><rect x="576.44" y="200.24" width="18.88" height="13.77" fill="#ffb0b0"/><rect x="594.32" y="200.24" width="17.88" height="13.77" fill="#e5e5ff"/><rect x="344.00" y="213.01" width="18.88" height="13.77" fill="#8d8dff"/><rect x="361.88" y="213.01" width="18.88" height="13.77" fill="#ffe5e5"/><rect x="379.76" y="213.01" width="18.88" height="13.77" fill="#e5e5ff"/><rect x="397.64" y="213.01" width="18.88" height="13.77" fill="#7b7bff"/><rect x="415.52" y="213.01" width="18.88" height="13.77" fill="#c1c1ff"/><rect x="433.40" y="213.01" width="18.88" height="13.77" fill="#ffb0b0"/><rect x="451.28" y="213.01" width="18.88" height="13.77" fill="#d3d3ff"/><rect x="469.16" y="213.01" width="18.88" height="13.77" fill="#ff9e9e"/><rect x="487.04" y="213.01" width="18.88" height="13.77" fill="#ff7b7b"/><rect x="504.92" y="213.01" width="18.88" height="13.77" fill="#ff8d8d"/><rect x="522.80" y="213.01" width="18.88" height="13.77" fill="#ff9e9e"/><rect x="540.68" y="213.01" width="18.88" height="13.77" fill="#ffd3d3"/><rect x="558.56" y="213.01" width="18.88" height="13.77" fill="#e5e5ff"/><rect x="576.44" y="213.01" width="18.88" height="13.77" fill="#ffd3d3"/><rect x="594.32" y="213.01" width="17.88" height="13.77" fill="#f6f6ff"/><rect x="344.00" y="225.78" width="18.88" height="13.77" fill="#c1c1ff"/><rect x="361.88" y="225.78" width="18.88" height="13.77" fill="#7b7bff"/><rect x="379.76" y="225.78" width="18.88" height="13.77" fill="#c1c1ff"/><rect x="397.64" y="225.78" width="18.88" height="13.77" fill="#c1c1ff"/><rect x="415.52" y="225.78" width="18.88" height="13.77" fill="#ffc1c1"/><rect x="433.40" y="225.78" width="18.88" height="13.77" fill="#ff5858"/><rect x="451.28" y="225.78" width="18.88" height="13.77" fill="#6a6aff"/><rect x="469.16" y="225.78" width="18.88" height="13.77" fill="#c1c1ff"/><rect x="487.04" y="225.78" width="18.88" height="13.77" fill="#e5e5ff"/><rect x="504.92" y="225.78" width="18.88" height="13.77" fill="#c1c1ff"/><rect x="522.80" y="225.78" width="18.88" height="13.77" fill="#e5e5ff"/><rect x="540.68" y="225.78" width="18.88" height="13.77" fill="#ffd3d3"/><rect x="558.56" y="225.78" width="18.88" height="13.77" fill="#ff9e9e"/><rect x="576.44" y="225.78" width="18.88" height="13.77" fill="#c1c1ff"/><rect x="594.32" y="225.78" width="17.88" height="13.77" fill="#e5e5ff"/><rect x="344.00" y="238.55" width="18.88" height="12.77" fill="#8d8dff"/><rect x="361.88" y="238.55" width="18.88" height="12.77" fill="#ffe5e5"/><rect x="379.76" y="238.55" width="18.88" height="12.77" fill="#5858ff"/><rect x="397.64" y="238.55" width="18.88" height="12.77" fill="#5858ff"/><rect x="415.52" y="238.55" width="18.88" height="12.77" fill="#5858ff"/><rect x="433.40" y="238.55" width="18.88" height="12.77" fill="#e5e5ff"/><rect x="451.28" y="238.55" width="18.88" height="12.77" fill="#ffc1c1"/><rect x="469.16" y="238.55" width="18.88" height="12.77" fill="#ffc1c1"/><rect x="487.04" y="238.55" width="18.88" height="12.77" fill="#ff9e9e"/><rect x="504.92" y="238.55" width="18.88" height="12.77" fill="#ffb0b0"/><rect x="522.80" y="238.55" width="18.88" height="12.77" fill="#c1c1ff"/><rect x="540.68" y="238.55" width="18.88" height="12.77" fill="#ff9e9e"/><rect x="558.56" y="238.55" width="18.88" height="12.77" fill="#b0b0ff"/><rect x="576.44" y="238.55" width="18.88" height="12.77" fill="#b0b0ff"/><rect x="594.32" y="238.55" width="17.88" height="12.77" fill="#f6f6ff"/></g><line x1="344.00" y1="200.24" x2="612.20" y2="200.24" stroke="#000" stroke-width="1.7"/><rect x="344.00" y="47.00" width="268.20" height="204.32" fill="none" stroke="#000" stroke-width="1.6"/><path d="M388.15 53.23L388.15 49.09M388.15 53.23L384.16 52.09M388.15 53.23L385.71 56.59M388.15 53.23L390.59 56.59M388.15 53.23L392.14 52.09" stroke="#000" stroke-width="1.5" fill="none"/><circle cx="388.15" cy="53.23" r="1.25"/><path d="M423.91 66.00L423.91 61.85M423.91 66.00L419.92 64.86M423.91 66.00L421.47 69.36M423.91 66.00L426.35 69.36M423.91 66.00L427.90 64.86" stroke="#000" stroke-width="1.5" fill="none"/><circle cx="423.91" cy="66.00" r="1.25"/><path d="M459.67 78.77L459.67 74.62M459.67 78.77L455.68 77.63M459.67 78.77L457.23 82.13M459.67 78.77L462.11 82.13M459.67 78.77L463.66 77.63" stroke="#000" stroke-width="1.5" fill="none"/><circle cx="459.67" cy="78.77" r="1.25"/><path d="M406.03 104.31L406.03 100.16M406.03 104.31L402.04 103.17M406.03 104.31L403.59 107.67M406.03 104.31L408.47 107.67M406.03 104.31L410.02 103.17" stroke="#000" stroke-width="1.5" fill="none"/><circle cx="406.03" cy="104.31" r="1.25"/><path d="M352.39 129.85L352.39 125.70M352.39 129.85L348.40 128.71M352.39 129.85L349.95 133.21M352.39 129.85L354.83 133.21M352.39 129.85L356.38 128.71" stroke="#000" stroke-width="1.5" fill="none"/><circle cx="352.39" cy="129.85" r="1.25"/><path d="M513.31 129.85L513.31 125.70M513.31 129.85L509.32 128.71M513.31 129.85L510.87 133.21M513.31 129.85L515.75 133.21M513.31 129.85L517.30 128.71" stroke="#000" stroke-width="1.5" fill="none"/><circle cx="513.31" cy="129.85" r="1.25"/><path d="M566.95 129.85L566.95 125.70M566.95 129.85L562.96 128.71M566.95 129.85L564.51 133.21M566.95 129.85L569.39 133.21M566.95 129.85L570.94 128.71" stroke="#000" stroke-width="1.5" fill="none"/><circle cx="566.95" cy="129.85" r="1.25"/><path d="M406.03 168.16L406.03 164.01M406.03 168.16L402.04 167.02M406.03 168.16L403.59 171.52M406.03 168.16L408.47 171.52M406.03 168.16L410.02 167.02" stroke="#000" stroke-width="1.5" fill="none"/><circle cx="406.03" cy="168.16" r="1.25"/><path d="M423.91 180.93L423.91 176.78M423.91 180.93L419.92 179.79M423.91 180.93L421.47 184.29M423.91 180.93L426.35 184.29M423.91 180.93L427.90 179.79" stroke="#000" stroke-width="1.5" fill="none"/><circle cx="423.91" cy="180.93" r="1.25"/><path d="M459.67 206.47L459.67 202.32M459.67 206.47L455.68 205.33M459.67 206.47L457.23 209.83M459.67 206.47L462.11 209.83M459.67 206.47L463.66 205.33" stroke="#000" stroke-width="1.5" fill="none"/><circle cx="459.67" cy="206.47" r="1.25"/><path d="M441.79 232.01L441.79 227.86M441.79 232.01L437.80 230.87M441.79 232.01L439.35 235.37M441.79 232.01L444.23 235.37M441.79 232.01L445.78 230.87" stroke="#000" stroke-width="1.5" fill="none"/><circle cx="441.79" cy="232.01" r="1.25"/><path d="M388.15 244.78L388.15 240.63M388.15 244.78L384.16 243.64M388.15 244.78L385.71 248.14M388.15 244.78L390.59 248.14M388.15 244.78L392.14 243.64" stroke="#000" stroke-width="1.5" fill="none"/><circle cx="388.15" cy="244.78" r="1.25"/><path d="M406.03 244.78L406.03 240.63M406.03 244.78L402.04 243.64M406.03 244.78L403.59 248.14M406.03 244.78L408.47 248.14M406.03 244.78L410.02 243.64" stroke="#000" stroke-width="1.5" fill="none"/><circle cx="406.03" cy="244.78" r="1.25"/><path d="M423.91 244.78L423.91 240.63M423.91 244.78L419.92 243.64M423.91 244.78L421.47 248.14M423.91 244.78L426.35 248.14M423.91 244.78L427.90 243.64" stroke="#000" stroke-width="1.5" fill="none"/><circle cx="423.91" cy="244.78" r="1.25"/><line x1="337.80" y1="53.38" x2="344.00" y2="53.38" stroke="#000" stroke-width="1.3"/><text transform="translate(334.00,56.68)" font-size="9.7" text-anchor="end">SETp</text><line x1="337.80" y1="66.16" x2="344.00" y2="66.16" stroke="#000" stroke-width="1.3"/><text transform="translate(334.00,69.45)" font-size="9.7" text-anchor="end">OCTp</text><line x1="337.80" y1="78.92" x2="344.00" y2="78.92" stroke="#000" stroke-width="1.3"/><text transform="translate(334.00,82.22)" font-size="9.7" text-anchor="end">NOVp</text><line x1="337.80" y1="91.70" x2="344.00" y2="91.70" stroke="#000" stroke-width="1.3"/><text transform="translate(334.00,95.00)" font-size="9.7" text-anchor="end">DECp</text><line x1="337.80" y1="104.47" x2="344.00" y2="104.47" stroke="#000" stroke-width="1.3"/><text transform="translate(334.00,107.77)" font-size="9.7" text-anchor="end">JANc</text><line x1="337.80" y1="117.23" x2="344.00" y2="117.23" stroke="#000" stroke-width="1.3"/><text transform="translate(334.00,120.53)" font-size="9.7" text-anchor="end">FEBc</text><line x1="337.80" y1="130.00" x2="344.00" y2="130.00" stroke="#000" stroke-width="1.3"/><text transform="translate(334.00,133.31)" font-size="9.7" text-anchor="end">MARc</text><line x1="337.80" y1="142.77" x2="344.00" y2="142.77" stroke="#000" stroke-width="1.3"/><text transform="translate(334.00,146.07)" font-size="9.7" text-anchor="end">APRc</text><line x1="337.80" y1="155.54" x2="344.00" y2="155.54" stroke="#000" stroke-width="1.3"/><text transform="translate(334.00,158.84)" font-size="9.7" text-anchor="end">MAYc</text><line x1="337.80" y1="168.31" x2="344.00" y2="168.31" stroke="#000" stroke-width="1.3"/><text transform="translate(334.00,171.62)" font-size="9.7" text-anchor="end">JUNc</text><line x1="337.80" y1="181.08" x2="344.00" y2="181.08" stroke="#000" stroke-width="1.3"/><text transform="translate(334.00,184.38)" font-size="9.7" text-anchor="end">JULc</text><line x1="337.80" y1="193.85" x2="344.00" y2="193.85" stroke="#000" stroke-width="1.3"/><text transform="translate(334.00,197.16)" font-size="9.7" text-anchor="end">AUGc</text><line x1="337.80" y1="206.62" x2="344.00" y2="206.62" stroke="#000" stroke-width="1.3"/><text transform="translate(334.00,209.93)" font-size="9.7" text-anchor="end">SONp</text><line x1="337.80" y1="219.39" x2="344.00" y2="219.39" stroke="#000" stroke-width="1.3"/><text transform="translate(334.00,222.69)" font-size="9.7" text-anchor="end">DJF</text><line x1="337.80" y1="232.16" x2="344.00" y2="232.16" stroke="#000" stroke-width="1.3"/><text transform="translate(334.00,235.47)" font-size="9.7" text-anchor="end">MAM</text><line x1="337.80" y1="244.93" x2="344.00" y2="244.93" stroke="#000" stroke-width="1.3"/><text transform="translate(334.00,248.23)" font-size="9.7" text-anchor="end">JJA</text><text transform="translate(357.54,39.80) rotate(-90) scale(1,1.08)" font-size="13.4">RW</text><text transform="translate(375.42,39.80) rotate(-90) scale(1,1.08)" font-size="13.4">RD</text><text transform="translate(393.30,39.80) rotate(-90) scale(1,1.08)" font-size="13.4">Al</text><text transform="translate(411.18,39.80) rotate(-90) scale(1,1.08)" font-size="13.4">P</text><text transform="translate(429.06,39.80) rotate(-90) scale(1,1.08)" font-size="13.4">S</text><text transform="translate(446.94,39.80) rotate(-90) scale(1,1.08)" font-size="13.4">K</text><text transform="translate(464.82,39.80) rotate(-90) scale(1,1.08)" font-size="13.4">Ca</text><text transform="translate(482.70,39.80) rotate(-90) scale(1,1.08)" font-size="13.4">Mn</text><text transform="translate(500.58,39.80) rotate(-90) scale(1,1.08)" font-size="13.4">Fe</text><text transform="translate(518.46,39.80) rotate(-90) scale(1,1.08)" font-size="13.4">Sr</text><text transform="translate(536.34,39.80) rotate(-90) scale(1,1.08)" font-size="13.4">Al/Ca</text><text transform="translate(554.22,39.80) rotate(-90) scale(1,1.08)" font-size="13.4">Ca/Mn</text><text transform="translate(572.10,39.80) rotate(-90) scale(1,1.08)" font-size="13.4">K/Ca</text><text transform="translate(589.98,39.80) rotate(-90) scale(1,1.08)" font-size="13.4">Sr/Ca</text><text transform="translate(607.86,39.80) rotate(-90) scale(1,1.08)" font-size="13.4">Mn/S</text><text transform="translate(477.00,277.30)" font-size="16" text-anchor="middle">P-PET</text><g><rect x="37.60" y="333.40" width="18.88" height="13.77" fill="#b0b0ff"/><rect x="55.48" y="333.40" width="18.88" height="13.77" fill="#fff6f6"/><rect x="73.36" y="333.40" width="18.88" height="13.77" fill="#ffd3d3"/><rect x="91.24" y="333.40" width="18.88" height="13.77" fill="#fff6f6"/><rect x="109.12" y="333.40" width="18.88" height="13.77" fill="#ffb0b0"/><rect x="127.00" y="333.40" width="18.88" height="13.77" fill="#f6f6ff"/><rect x="144.88" y="333.40" width="18.88" height="13.77" fill="#c1c1ff"/><rect x="162.76" y="333.40" width="18.88" height="13.77" fill="#fff6f6"/><rect x="180.64" y="333.40" width="18.88" height="13.77" fill="#ffd3d3"/><rect x="198.52" y="333.40" width="18.88" height="13.77" fill="#ffd3d3"/><rect x="216.40" y="333.40" width="18.88" height="13.77" fill="#ffe5e5"/><rect x="234.28" y="333.40" width="18.88" height="13.77" fill="#d3d3ff"/><rect x="252.16" y="333.40" width="18.88" height="13.77" fill="#d3d3ff"/><rect x="270.04" y="333.40" width="18.88" height="13.77" fill="#e5e5ff"/><rect x="287.92" y="333.40" width="17.88" height="13.77" fill="#ffd3d3"/><rect x="37.60" y="346.17" width="18.88" height="13.77" fill="#6a6aff"/><rect x="55.48" y="346.17" width="18.88" height="13.77" fill="#c1c1ff"/><rect x="73.36" y="346.17" width="18.88" height="13.77" fill="#ffe5e5"/><rect x="91.24" y="346.17" width="18.88" height="13.77" fill="#ffe5e5"/><rect x="109.12" y="346.17" width="18.88" height="13.77" fill="#ffb0b0"/><rect x="127.00" y="346.17" width="18.88" height="13.77" fill="#f6f6ff"/><rect x="144.88" y="346.17" width="18.88" height="13.77" fill="#d3d3ff"/><rect x="162.76" y="346.17" width="18.88" height="13.77" fill="#ffe5e5"/><rect x="180.64" y="346.17" width="18.88" height="13.77" fill="#f6f6ff"/><rect x="198.52" y="346.17" width="18.88" height="13.77" fill="#ffd3d3"/><rect x="216.40" y="346.17" width="18.88" height="13.77" fill="#ffd3d3"/><rect x="234.28" y="346.17" width="18.88" height="13.77" fill="#d3d3ff"/><rect x="252.16" y="346.17" width="18.88" height="13.77" fill="#ffe5e5"/><rect x="270.04" y="346.17" width="18.88" height="13.77" fill="#ffe5e5"/><rect x="287.92" y="346.17" width="17.88" height="13.77" fill="#f6f6ff"/><rect x="37.60" y="358.94" width="18.88" height="13.77" fill="#6a6aff"/><rect x="55.48" y="358.94" width="18.88" height="13.77" fill="#c1c1ff"/><rect x="73.36" y="358.94" width="18.88" height="13.77" fill="#fff6f6"/><rect x="91.24" y="358.94" width="18.88" height="13.77" fill="#ffb0b0"/><rect x="109.12" y="358.94" width="18.88" height="13.77" fill="#ffb0b0"/><rect x="127.00" y="358.94" width="18.88" height="13.77" fill="#c1c1ff"/><rect x="144.88" y="358.94" width="18.88" height="13.77" fill="#d3d3ff"/><rect x="162.76" y="358.94" width="18.88" height="13.77" fill="#ffe5e5"/><rect x="180.64" y="358.94" width="18.88" height="13.77" fill="#fff6f6"/><rect x="198.52" y="358.94" width="18.88" height="13.77" fill="#ffd3d3"/><rect x="216.40" y="358.94" width="18.88" height="13.77" fill="#ffe5e5"/><rect x="234.28" y="358.94" width="18.88" height="13.77" fill="#e5e5ff"/><rect x="252.16" y="358.94" width="18.88" height="13.77" fill="#e5e5ff"/><rect x="270.04" y="358.94" width="18.88" height="13.77" fill="#ffe5e5"/><rect x="287.92" y="358.94" width="17.88" height="13.77" fill="#fff6f6"/><rect x="37.60" y="371.71" width="18.88" height="13.77" fill="#d3d3ff"/><rect x="55.48" y="371.71" width="18.88" height="13.77" fill="#e5e5ff"/><rect x="73.36" y="371.71" width="18.88" height="13.77" fill="#f6f6ff"/><rect x="91.24" y="371.71" width="18.88" height="13.77" fill="#ffc1c1"/><rect x="109.12" y="371.71" width="18.88" height="13.77" fill="#fff6f6"/><rect x="127.00" y="371.71" width="18.88" height="13.77" fill="#e5e5ff"/><rect x="144.88" y="371.71" width="18.88" height="13.77" fill="#c1c1ff"/><rect x="162.76" y="371.71" width="18.88" height="13.77" fill="#f6f6ff"/><rect x="180.64" y="371.71" width="18.88" height="13.77" fill="#f6f6ff"/><rect x="198.52" y="371.71" width="18.88" height="13.77" fill="#d3d3ff"/><rect x="216.40" y="371.71" width="18.88" height="13.77" fill="#ffd3d3"/><rect x="234.28" y="371.71" width="18.88" height="13.77" fill="#f6f6ff"/><rect x="252.16" y="371.71" width="18.88" height="13.77" fill="#ffd3d3"/><rect x="270.04" y="371.71" width="18.88" height="13.77" fill="#ffd3d3"/><rect x="287.92" y="371.71" width="17.88" height="13.77" fill="#fff6f6"/><rect x="37.60" y="384.48" width="18.88" height="13.77" fill="#f6f6ff"/><rect x="55.48" y="384.48" width="18.88" height="13.77" fill="#c1c1ff"/><rect x="73.36" y="384.48" width="18.88" height="13.77" fill="#c1c1ff"/><rect x="91.24" y="384.48" width="18.88" height="13.77" fill="#ff5858"/><rect x="109.12" y="384.48" width="18.88" height="13.77" fill="#ff5858"/><rect x="127.00" y="384.48" width="18.88" height="13.77" fill="#e5e5ff"/><rect x="144.88" y="384.48" width="18.88" height="13.77" fill="#d3d3ff"/><rect x="162.76" y="384.48" width="18.88" height="13.77" fill="#f6f6ff"/><rect x="180.64" y="384.48" width="18.88" height="13.77" fill="#fff6f6"/><rect x="198.52" y="384.48" width="18.88" height="13.77" fill="#b0b0ff"/><rect x="216.40" y="384.48" width="18.88" height="13.77" fill="#ffb0b0"/><rect x="234.28" y="384.48" width="18.88" height="13.77" fill="#7b7bff"/><rect x="252.16" y="384.48" width="18.88" height="13.77" fill="#ff9e9e"/><rect x="270.04" y="384.48" width="18.88" height="13.77" fill="#ffc1c1"/><rect x="287.92" y="384.48" width="17.88" height="13.77" fill="#d3d3ff"/><rect x="37.60" y="397.25" width="18.88" height="13.77" fill="#ffe5e5"/><rect x="55.48" y="397.25" width="18.88" height="13.77" fill="#b0b0ff"/><rect x="73.36" y="397.25" width="18.88" height="13.77" fill="#c1c1ff"/><rect x="91.24" y="397.25" width="18.88" height="13.77" fill="#ff5858"/><rect x="109.12" y="397.25" width="18.88" height="13.77" fill="#ff4646"/><rect x="127.00" y="397.25" width="18.88" height="13.77" fill="#d3d3ff"/><rect x="144.88" y="397.25" width="18.88" height="13.77" fill="#d3d3ff"/><rect x="162.76" y="397.25" width="18.88" height="13.77" fill="#ffd3d3"/><rect x="180.64" y="397.25" width="18.88" height="13.77" fill="#fff6f6"/><rect x="198.52" y="397.25" width="18.88" height="13.77" fill="#9e9eff"/><rect x="216.40" y="397.25" width="18.88" height="13.77" fill="#ffc1c1"/><rect x="234.28" y="397.25" width="18.88" height="13.77" fill="#2323ff"/><rect x="252.16" y="397.25" width="18.88" height="13.77" fill="#ff7b7b"/><rect x="270.04" y="397.25" width="18.88" height="13.77" fill="#ffc1c1"/><rect x="287.92" y="397.25" width="17.88" height="13.77" fill="#f6f6ff"/><rect x="37.60" y="410.02" width="18.88" height="13.77" fill="#fff6f6"/><rect x="55.48" y="410.02" width="18.88" height="13.77" fill="#d3d3ff"/><rect x="73.36" y="410.02" width="18.88" height="13.77" fill="#d3d3ff"/><rect x="91.24" y="410.02" width="18.88" height="13.77" fill="#ff5858"/><rect x="109.12" y="410.02" width="18.88" height="13.77" fill="#ff6a6a"/><rect x="127.00" y="410.02" width="18.88" height="13.77" fill="#f6f6ff"/><rect x="144.88" y="410.02" width="18.88" height="13.77" fill="#f6f6ff"/><rect x="162.76" y="410.02" width="18.88" height="13.77" fill="#ffc1c1"/><rect x="180.64" y="410.02" width="18.88" height="13.77" fill="#fff6f6"/><rect x="198.52" y="410.02" width="18.88" height="13.77" fill="#9e9eff"/><rect x="216.40" y="410.02" width="18.88" height="13.77" fill="#ffe5e5"/><rect x="234.28" y="410.02" width="18.88" height="13.77" fill="#c1c1ff"/><rect x="252.16" y="410.02" width="18.88" height="13.77" fill="#ff9e9e"/><rect x="270.04" y="410.02" width="18.88" height="13.77" fill="#f6f6ff"/><rect x="287.92" y="410.02" width="17.88" height="13.77" fill="#d3d3ff"/><rect x="37.60" y="422.79" width="18.88" height="13.77" fill="#ffb0b0"/><rect x="55.48" y="422.79" width="18.88" height="13.77" fill="#ffe5e5"/><rect x="73.36" y="422.79" width="18.88" height="13.77" fill="#e5e5ff"/><rect x="91.24" y="422.79" width="18.88" height="13.77" fill="#ff5858"/><rect x="109.12" y="422.79" width="18.88" height="13.77" fill="#ff7b7b"/><rect x="127.00" y="422.79" width="18.88" height="13.77" fill="#c1c1ff"/><rect x="144.88" y="422.79" width="18.88" height="13.77" fill="#fff6f6"/><rect x="162.76" y="422.79" width="18.88" height="13.77" fill="#ffb0b0"/><rect x="180.64" y="422.79" width="18.88" height="13.77" fill="#fff6f6"/><rect x="198.52" y="422.79" width="18.88" height="13.77" fill="#b0b0ff"/><rect x="216.40" y="422.79" width="18.88" height="13.77" fill="#ffc1c1"/><rect x="234.28" y="422.79" width="18.88" height="13.77" fill="#8d8dff"/><rect x="252.16" y="422.79" width="18.88" height="13.77" fill="#ffe5e5"/><rect x="270.04" y="422.79" width="18.88" height="13.77" fill="#fff6f6"/><rect x="287.92" y="422.79" width="17.88" height="13.77" fill="#f6f6ff"/><rect x="37.60" y="435.56" width="18.88" height="13.77" fill="#fff6f6"/><rect x="55.48" y="435.56" width="18.88" height="13.77" fill="#ffc1c1"/><rect x="73.36" y="435.56" width="18.88" height="13.77" fill="#d3d3ff"/><rect x="91.24" y="435.56" width="18.88" height="13.77" fill="#ff8d8d"/><rect x="109.12" y="435.56" width="18.88" height="13.77" fill="#fff6f6"/><rect x="127.00" y="435.56" width="18.88" height="13.77" fill="#6a6aff"/><rect x="144.88" y="435.56" width="18.88" height="13.77" fill="#8d8dff"/><rect x="162.76" y="435.56" width="18.88" height="13.77" fill="#f6f6ff"/><rect x="180.64" y="435.56" width="18.88" height="13.77" fill="#ffd3d3"/><rect x="198.52" y="435.56" width="18.88" height="13.77" fill="#e5e5ff"/><rect x="216.40" y="435.56" width="18.88" height="13.77" fill="#fff6f6"/><rect x="234.28" y="435.56" width="18.88" height="13.77" fill="#e5e5ff"/><rect x="252.16" y="435.56" width="18.88" height="13.77" fill="#9e9eff"/><rect x="270.04" y="435.56" width="18.88" height="13.77" fill="#e5e5ff"/><rect x="287.92" y="435.56" width="17.88" height="13.77" fill="#f6f6ff"/><rect x="37.60" y="448.33" width="18.88" height="13.77" fill="#ffe5e5"/><rect x="55.48" y="448.33" width="18.88" height="13.77" fill="#ffd3d3"/><rect x="73.36" y="448.33" width="18.88" height="13.77" fill="#e5e5ff"/><rect x="91.24" y="448.33" width="18.88" height="13.77" fill="#ff6a6a"/><rect x="109.12" y="448.33" width="18.88" height="13.77" fill="#ffc1c1"/><rect x="127.00" y="448.33" width="18.88" height="13.77" fill="#b0b0ff"/><rect x="144.88" y="448.33" width="18.88" height="13.77" fill="#8d8dff"/><rect x="162.76" y="448.33" width="18.88" height="13.77" fill="#f6f6ff"/><rect x="180.64" y="448.33" width="18.88" height="13.77" fill="#ff8d8d"/><rect x="198.52" y="448.33" width="18.88" height="13.77" fill="#fff6f6"/><rect x="216.40" y="448.33" width="18.88" height="13.77" fill="#ffc1c1"/><rect x="234.28" y="448.33" width="18.88" height="13.77" fill="#7b7bff"/><rect x="252.16" y="448.33" width="18.88" height="13.77" fill="#e5e5ff"/><rect x="270.04" y="448.33" width="18.88" height="13.77" fill="#ff8d8d"/><rect x="287.92" y="448.33" width="17.88" height="13.77" fill="#ffd3d3"/><rect x="37.60" y="461.10" width="18.88" height="13.77" fill="#fff6f6"/><rect x="55.48" y="461.10" width="18.88" height="13.77" fill="#fff6f6"/><rect x="73.36" y="461.10" width="18.88" height="13.77" fill="#ff9e9e"/><rect x="91.24" y="461.10" width="18.88" height="13.77" fill="#ffd3d3"/><rect x="109.12" y="461.10" width="18.88" height="13.77" fill="#ff5858"/><rect x="127.00" y="461.10" width="18.88" height="13.77" fill="#ffe5e5"/><rect x="144.88" y="461.10" width="18.88" height="13.77" fill="#7b7bff"/><rect x="162.76" y="461.10" width="18.88" height="13.77" fill="#e5e5ff"/><rect x="180.64" y="461.10" width="18.88" height="13.77" fill="#e5e5ff"/><rect x="198.52" y="461.10" width="18.88" height="13.77" fill="#fff6f6"/><rect x="216.40" y="461.10" width="18.88" height="13.77" fill="#ff8d8d"/><rect x="234.28" y="461.10" width="18.88" height="13.77" fill="#e5e5ff"/><rect x="252.16" y="461.10" width="18.88" height="13.77" fill="#e5e5ff"/><rect x="270.04" y="461.10" width="18.88" height="13.77" fill="#ffd3d3"/><rect x="287.92" y="461.10" width="17.88" height="13.77" fill="#e5e5ff"/><rect x="37.60" y="473.87" width="18.88" height="13.77" fill="#d3d3ff"/><rect x="55.48" y="473.87" width="18.88" height="13.77" fill="#ffd3d3"/><rect x="73.36" y="473.87" width="18.88" height="13.77" fill="#ffb0b0"/><rect x="91.24" y="473.87" width="18.88" height="13.77" fill="#ffe5e5"/><rect x="109.12" y="473.87" width="18.88" height="13.77" fill="#ffb0b0"/><rect x="127.00" y="473.87" width="18.88" height="13.77" fill="#ffd3d3"/><rect x="144.88" y="473.87" width="18.88" height="13.77" fill="#c1c1ff"/><rect x="162.76" y="473.87" width="18.88" height="13.77" fill="#ffe5e5"/><rect x="180.64" y="473.87" width="18.88" height="13.77" fill="#ffd3d3"/><rect x="198.52" y="473.87" width="18.88" height="13.77" fill="#b0b0ff"/><rect x="216.40" y="473.87" width="18.88" height="13.77" fill="#ff9e9e"/><rect x="234.28" y="473.87" width="18.88" height="13.77" fill="#fff6f6"/><rect x="252.16" y="473.87" width="18.88" height="13.77" fill="#ffe5e5"/><rect x="270.04" y="473.87" width="18.88" height="13.77" fill="#d3d3ff"/><rect x="287.92" y="473.87" width="17.88" height="13.77" fill="#fff6f6"/><rect x="37.60" y="486.64" width="18.88" height="13.77" fill="#6a6aff"/><rect x="55.48" y="486.64" width="18.88" height="13.77" fill="#c1c1ff"/><rect x="73.36" y="486.64" width="18.88" height="13.77" fill="#fff6f6"/><rect x="91.24" y="486.64" width="18.88" height="13.77" fill="#ffb0b0"/><rect x="109.12" y="486.64" width="18.88" height="13.77" fill="#ffb0b0"/><rect x="127.00" y="486.64" width="18.88" height="13.77" fill="#e5e5ff"/><rect x="144.88" y="486.64" width="18.88" height="13.77" fill="#d3d3ff"/><rect x="162.76" y="486.64" width="18.88" height="13.77" fill="#fff6f6"/><rect x="180.64" y="486.64" width="18.88" height="13.77" fill="#f6f6ff"/><rect x="198.52" y="486.64" width="18.88" height="13.77" fill="#ffe5e5"/><rect x="216.40" y="486.64" width="18.88" height="13.77" fill="#ffd3d3"/><rect x="234.28" y="486.64" width="18.88" height="13.77" fill="#e5e5ff"/><rect x="252.16" y="486.64" width="18.88" height="13.77" fill="#fff6f6"/><rect x="270.04" y="486.64" width="18.88" height="13.77" fill="#ffe5e5"/><rect x="287.92" y="486.64" width="17.88" height="13.77" fill="#f6f6ff"/><rect x="37.60" y="499.41" width="18.88" height="13.77" fill="#fff6f6"/><rect x="55.48" y="499.41" width="18.88" height="13.77" fill="#d3d3ff"/><rect x="73.36" y="499.41" width="18.88" height="13.77" fill="#d3d3ff"/><rect x="91.24" y="499.41" width="18.88" height="13.77" fill="#ff6a6a"/><rect x="109.12" y="499.41" width="18.88" height="13.77" fill="#ff8d8d"/><rect x="127.00" y="499.41" width="18.88" height="13.77" fill="#d3d3ff"/><rect x="144.88" y="499.41" width="18.88" height="13.77" fill="#d3d3ff"/><rect x="162.76" y="499.41" width="18.88" height="13.77" fill="#fff6f6"/><rect x="180.64" y="499.41" width="18.88" height="13.77" fill="#fff6f6"/><rect x="198.52" y="499.41" width="18.88" height="13.77" fill="#b0b0ff"/><rect x="216.40" y="499.41" width="18.88" height="13.77" fill="#ffc1c1"/><rect x="234.28" y="499.41" width="18.88" height="13.77" fill="#7b7bff"/><rect x="252.16" y="499.41" width="18.88" height="13.77" fill="#ff9e9e"/><rect x="270.04" y="499.41" width="18.88" height="13.77" fill="#ffc1c1"/><rect x="287.92" y="499.41" width="17.88" height="13.77" fill="#f6f6ff"/><rect x="37.60" y="512.18" width="18.88" height="13.77" fill="#ffe5e5"/><rect x="55.48" y="512.18" width="18.88" height="13.77" fill="#ffe5e5"/><rect x="73.36" y="512.18" width="18.88" height="13.77" fill="#d3d3ff"/><rect x="91.24" y="512.18" width="18.88" height="13.77" fill="#ff6a6a"/><rect x="109.12" y="512.18" width="18.88" height="13.77" fill="#ff8d8d"/><rect x="127.00" y="512.18" width="18.88" height="13.77" fill="#9e9eff"/><rect x="144.88" y="512.18" width="18.88" height="13.77" fill="#c1c1ff"/><rect x="162.76" y="512.18" width="18.88" height="13.77" fill="#ffd3d3"/><rect x="180.64" y="512.18" width="18.88" height="13.77" fill="#ffe5e5"/><rect x="198.52" y="512.18" width="18.88" height="13.77" fill="#b0b0ff"/><rect x="216.40" y="512.18" width="18.88" height="13.77" fill="#ffd3d3"/><rect x="234.28" y="512.18" width="18.88" height="13.77" fill="#b0b0ff"/><rect x="252.16" y="512.18" width="18.88" height="13.77" fill="#f6f6ff"/><rect x="270.04" y="512.18" width="18.88" height="13.77" fill="#f6f6ff"/><rect x="287.92" y="512.18" width="17.88" height="13.77" fill="#e5e5ff"/><rect x="37.60" y="524.95" width="18.88" height="12.77" fill="#f6f6ff"/><rect x="55.48" y="524.95" width="18.88" height="12.77" fill="#ffd3d3"/><rect x="73.36" y="524.95" width="18.88" height="12.77" fill="#ffc1c1"/><rect x="91.24" y="524.95" width="18.88" height="12.77" fill="#ff9e9e"/><rect x="109.12" y="524.95" width="18.88" height="12.77" fill="#ff7b7b"/><rect x="127.00" y="524.95" width="18.88" height="12.77" fill="#fff6f6"/><rect x="144.88" y="524.95" width="18.88" height="12.77" fill="#7b7bff"/><rect x="162.76" y="524.95" width="18.88" height="12.77" fill="#f6f6ff"/><rect x="180.64" y="524.95" width="18.88" height="12.77" fill="#ffc1c1"/><rect x="198.52" y="524.95" width="18.88" height="12.77" fill="#e5e5ff"/><rect x="216.40" y="524.95" width="18.88" height="12.77" fill="#ff8d8d"/><rect x="234.28" y="524.95" width="18.88" height="12.77" fill="#c1c1ff"/><rect x="252.16" y="524.95" width="18.88" height="12.77" fill="#f6f6ff"/><rect x="270.04" y="524.95" width="18.88" height="12.77" fill="#ffd3d3"/><rect x="287.92" y="524.95" width="17.88" height="12.77" fill="#fff6f6"/></g><line x1="37.60" y1="486.64" x2="344.00" y2="486.64" stroke="#000" stroke-width="1.7"/><rect x="37.60" y="333.40" width="268.20" height="204.32" fill="none" stroke="#000" stroke-width="1.6"/><path d="M45.99 352.40L45.99 348.25M45.99 352.40L42.00 351.26M45.99 352.40L43.55 355.76M45.99 352.40L48.43 355.76M45.99 352.40L49.98 351.26" stroke="#000" stroke-width="1.5" fill="none"/><circle cx="45.99" cy="352.40" r="1.25"/><path d="M99.63 390.71L99.63 386.56M99.63 390.71L95.64 389.57M99.63 390.71L97.19 394.07M99.63 390.71L102.07 394.07M99.63 390.71L103.62 389.57" stroke="#000" stroke-width="1.5" fill="none"/><circle cx="99.63" cy="390.71" r="1.25"/><path d="M117.51 390.71L117.51 386.56M117.51 390.71L113.52 389.57M117.51 390.71L115.07 394.07M117.51 390.71L119.95 394.07M117.51 390.71L121.50 389.57" stroke="#000" stroke-width="1.5" fill="none"/><circle cx="117.51" cy="390.71" r="1.25"/><path d="M99.63 403.49L99.63 399.34M99.63 403.49L95.64 402.34M99.63 403.49L97.19 406.84M99.63 403.49L102.07 406.84M99.63 403.49L103.62 402.34" stroke="#000" stroke-width="1.5" fill="none"/><circle cx="99.63" cy="403.49" r="1.25"/><path d="M117.51 403.49L117.51 399.34M117.51 403.49L113.52 402.34M117.51 403.49L115.07 406.84M117.51 403.49L119.95 406.84M117.51 403.49L121.50 402.34" stroke="#000" stroke-width="1.5" fill="none"/><circle cx="117.51" cy="403.49" r="1.25"/><path d="M242.67 403.49L242.67 399.34M242.67 403.49L238.68 402.34M242.67 403.49L240.23 406.84M242.67 403.49L245.11 406.84M242.67 403.49L246.66 402.34" stroke="#000" stroke-width="1.5" fill="none"/><circle cx="242.67" cy="403.49" r="1.25"/><path d="M99.63 416.25L99.63 412.11M99.63 416.25L95.64 415.11M99.63 416.25L97.19 419.61M99.63 416.25L102.07 419.61M99.63 416.25L103.62 415.11" stroke="#000" stroke-width="1.5" fill="none"/><circle cx="99.63" cy="416.25" r="1.25"/><path d="M117.51 416.25L117.51 412.11M117.51 416.25L113.52 415.11M117.51 416.25L115.07 419.61M117.51 416.25L119.95 419.61M117.51 416.25L121.50 415.11" stroke="#000" stroke-width="1.5" fill="none"/><circle cx="117.51" cy="416.25" r="1.25"/><path d="M99.63 429.02L99.63 424.88M99.63 429.02L95.64 427.88M99.63 429.02L97.19 432.38M99.63 429.02L102.07 432.38M99.63 429.02L103.62 427.88" stroke="#000" stroke-width="1.5" fill="none"/><circle cx="99.63" cy="429.02" r="1.25"/><path d="M117.51 429.02L117.51 424.88M117.51 429.02L113.52 427.88M117.51 429.02L115.07 432.38M117.51 429.02L119.95 432.38M117.51 429.02L121.50 427.88" stroke="#000" stroke-width="1.5" fill="none"/><circle cx="117.51" cy="429.02" r="1.25"/><path d="M135.39 441.79L135.39 437.64M135.39 441.79L131.40 440.65M135.39 441.79L132.95 445.15M135.39 441.79L137.83 445.15M135.39 441.79L139.38 440.65" stroke="#000" stroke-width="1.5" fill="none"/><circle cx="135.39" cy="441.79" r="1.25"/><path d="M99.63 454.56L99.63 450.42M99.63 454.56L95.64 453.42M99.63 454.56L97.19 457.92M99.63 454.56L102.07 457.92M99.63 454.56L103.62 453.42" stroke="#000" stroke-width="1.5" fill="none"/><circle cx="99.63" cy="454.56" r="1.25"/><path d="M242.67 454.56L242.67 450.42M242.67 454.56L238.68 453.42M242.67 454.56L240.23 457.92M242.67 454.56L245.11 457.92M242.67 454.56L246.66 453.42" stroke="#000" stroke-width="1.5" fill="none"/><circle cx="242.67" cy="454.56" r="1.25"/><path d="M117.51 467.33L117.51 463.19M117.51 467.33L113.52 466.19M117.51 467.33L115.07 470.69M117.51 467.33L119.95 470.69M117.51 467.33L121.50 466.19" stroke="#000" stroke-width="1.5" fill="none"/><circle cx="117.51" cy="467.33" r="1.25"/><path d="M153.27 467.33L153.27 463.19M153.27 467.33L149.28 466.19M153.27 467.33L150.83 470.69M153.27 467.33L155.71 470.69M153.27 467.33L157.26 466.19" stroke="#000" stroke-width="1.5" fill="none"/><circle cx="153.27" cy="467.33" r="1.25"/><path d="M99.63 505.64L99.63 501.50M99.63 505.64L95.64 504.50M99.63 505.64L97.19 509.00M99.63 505.64L102.07 509.00M99.63 505.64L103.62 504.50" stroke="#000" stroke-width="1.5" fill="none"/><circle cx="99.63" cy="505.64" r="1.25"/><path d="M242.67 505.64L242.67 501.50M242.67 505.64L238.68 504.50M242.67 505.64L240.23 509.00M242.67 505.64L245.11 509.00M242.67 505.64L246.66 504.50" stroke="#000" stroke-width="1.5" fill="none"/><circle cx="242.67" cy="505.64" r="1.25"/><path d="M99.63 518.41L99.63 514.26M99.63 518.41L95.64 517.27M99.63 518.41L97.19 521.77M99.63 518.41L102.07 521.77M99.63 518.41L103.62 517.27" stroke="#000" stroke-width="1.5" fill="none"/><circle cx="99.63" cy="518.41" r="1.25"/><line x1="31.40" y1="339.78" x2="37.60" y2="339.78" stroke="#000" stroke-width="1.3"/><text transform="translate(27.60,343.08)" font-size="9.7" text-anchor="end">SETp</text><line x1="31.40" y1="352.55" x2="37.60" y2="352.55" stroke="#000" stroke-width="1.3"/><text transform="translate(27.60,355.85)" font-size="9.7" text-anchor="end">OCTp</text><line x1="31.40" y1="365.32" x2="37.60" y2="365.32" stroke="#000" stroke-width="1.3"/><text transform="translate(27.60,368.62)" font-size="9.7" text-anchor="end">NOVp</text><line x1="31.40" y1="378.09" x2="37.60" y2="378.09" stroke="#000" stroke-width="1.3"/><text transform="translate(27.60,381.39)" font-size="9.7" text-anchor="end">DECp</text><line x1="31.40" y1="390.86" x2="37.60" y2="390.86" stroke="#000" stroke-width="1.3"/><text transform="translate(27.60,394.16)" font-size="9.7" text-anchor="end">JANc</text><line x1="31.40" y1="403.63" x2="37.60" y2="403.63" stroke="#000" stroke-width="1.3"/><text transform="translate(27.60,406.94)" font-size="9.7" text-anchor="end">FEBc</text><line x1="31.40" y1="416.40" x2="37.60" y2="416.40" stroke="#000" stroke-width="1.3"/><text transform="translate(27.60,419.70)" font-size="9.7" text-anchor="end">MARc</text><line x1="31.40" y1="429.17" x2="37.60" y2="429.17" stroke="#000" stroke-width="1.3"/><text transform="translate(27.60,432.47)" font-size="9.7" text-anchor="end">APRc</text><line x1="31.40" y1="441.94" x2="37.60" y2="441.94" stroke="#000" stroke-width="1.3"/><text transform="translate(27.60,445.24)" font-size="9.7" text-anchor="end">MAYc</text><line x1="31.40" y1="454.71" x2="37.60" y2="454.71" stroke="#000" stroke-width="1.3"/><text transform="translate(27.60,458.01)" font-size="9.7" text-anchor="end">JUNc</text><line x1="31.40" y1="467.48" x2="37.60" y2="467.48" stroke="#000" stroke-width="1.3"/><text transform="translate(27.60,470.78)" font-size="9.7" text-anchor="end">JULc</text><line x1="31.40" y1="480.25" x2="37.60" y2="480.25" stroke="#000" stroke-width="1.3"/><text transform="translate(27.60,483.56)" font-size="9.7" text-anchor="end">AUGc</text><line x1="31.40" y1="493.02" x2="37.60" y2="493.02" stroke="#000" stroke-width="1.3"/><text transform="translate(27.60,496.32)" font-size="9.7" text-anchor="end">SONp</text><line x1="31.40" y1="505.79" x2="37.60" y2="505.79" stroke="#000" stroke-width="1.3"/><text transform="translate(27.60,509.09)" font-size="9.7" text-anchor="end">DJF</text><line x1="31.40" y1="518.56" x2="37.60" y2="518.56" stroke="#000" stroke-width="1.3"/><text transform="translate(27.60,521.86)" font-size="9.7" text-anchor="end">MAM</text><line x1="31.40" y1="531.33" x2="37.60" y2="531.33" stroke="#000" stroke-width="1.3"/><text transform="translate(27.60,534.63)" font-size="9.7" text-anchor="end">JJA</text><text transform="translate(51.14,326.20) rotate(-90) scale(1,1.08)" font-size="13.4">RW</text><text transform="translate(69.02,326.20) rotate(-90) scale(1,1.08)" font-size="13.4">RD</text><text transform="translate(86.90,326.20) rotate(-90) scale(1,1.08)" font-size="13.4">Al</text><text transform="translate(104.78,326.20) rotate(-90) scale(1,1.08)" font-size="13.4">P</text><text transform="translate(122.66,326.20) rotate(-90) scale(1,1.08)" font-size="13.4">S</text><text transform="translate(140.54,326.20) rotate(-90) scale(1,1.08)" font-size="13.4">K</text><text transform="translate(158.42,326.20) rotate(-90) scale(1,1.08)" font-size="13.4">Ca</text><text transform="translate(176.30,326.20) rotate(-90) scale(1,1.08)" font-size="13.4">Mn</text><text transform="translate(194.18,326.20) rotate(-90) scale(1,1.08)" font-size="13.4">Fe</text><text transform="translate(212.06,326.20) rotate(-90) scale(1,1.08)" font-size="13.4">Sr</text><text transform="translate(229.94,326.20) rotate(-90) scale(1,1.08)" font-size="13.4">Al/Ca</text><text transform="translate(247.82,326.20) rotate(-90) scale(1,1.08)" font-size="13.4">Ca/Mn</text><text transform="translate(265.70,326.20) rotate(-90) scale(1,1.08)" font-size="13.4">K/Ca</text><text transform="translate(283.58,326.20) rotate(-90) scale(1,1.08)" font-size="13.4">Sr/Ca</text><text transform="translate(301.46,326.20) rotate(-90) scale(1,1.08)" font-size="13.4">Mn/S</text><text transform="translate(160.30,565.00)" font-size="16" text-anchor="middle">Temperature</text><g><rect x="344.00" y="333.40" width="18.88" height="13.77" fill="#f6f6ff"/><rect x="361.88" y="333.40" width="18.88" height="13.77" fill="#c1c1ff"/><rect x="379.76" y="333.40" width="18.88" height="13.77" fill="#9e9eff"/><rect x="397.64" y="333.40" width="18.88" height="13.77" fill="#f6f6ff"/><rect x="415.52" y="333.40" width="18.88" height="13.77" fill="#ffe5e5"/><rect x="433.40" y="333.40" width="18.88" height="13.77" fill="#9e9eff"/><rect x="451.28" y="333.40" width="18.88" height="13.77" fill="#d3d3ff"/><rect x="469.16" y="333.40" width="18.88" height="13.77" fill="#e5e5ff"/><rect x="487.04" y="333.40" width="18.88" height="13.77" fill="#fff6f6"/><rect x="504.92" y="333.40" width="18.88" height="13.77" fill="#f6f6ff"/><rect x="522.80" y="333.40" width="18.88" height="13.77" fill="#f6f6ff"/><rect x="540.68" y="333.40" width="18.88" height="13.77" fill="#ffe5e5"/><rect x="558.56" y="333.40" width="18.88" height="13.77" fill="#fff6f6"/><rect x="576.44" y="333.40" width="18.88" height="13.77" fill="#fff6f6"/><rect x="594.32" y="333.40" width="17.88" height="13.77" fill="#d3d3ff"/><rect x="344.00" y="346.17" width="18.88" height="13.77" fill="#ffd3d3"/><rect x="361.88" y="346.17" width="18.88" height="13.77" fill="#ffc1c1"/><rect x="379.76" y="346.17" width="18.88" height="13.77" fill="#fff6f6"/><rect x="397.64" y="346.17" width="18.88" height="13.77" fill="#9e9eff"/><rect x="415.52" y="346.17" width="18.88" height="13.77" fill="#9e9eff"/><rect x="433.40" y="346.17" width="18.88" height="13.77" fill="#c1c1ff"/><rect x="451.28" y="346.17" width="18.88" height="13.77" fill="#f6f6ff"/><rect x="469.16" y="346.17" width="18.88" height="13.77" fill="#e5e5ff"/><rect x="487.04" y="346.17" width="18.88" height="13.77" fill="#ff7b7b"/><rect x="504.92" y="346.17" width="18.88" height="13.77" fill="#c1c1ff"/><rect x="522.80" y="346.17" width="18.88" height="13.77" fill="#c1c1ff"/><rect x="540.68" y="346.17" width="18.88" height="13.77" fill="#ffd3d3"/><rect x="558.56" y="346.17" width="18.88" height="13.77" fill="#c1c1ff"/><rect x="576.44" y="346.17" width="18.88" height="13.77" fill="#9e9eff"/><rect x="594.32" y="346.17" width="17.88" height="13.77" fill="#f6f6ff"/><rect x="344.00" y="358.94" width="18.88" height="13.77" fill="#ffb0b0"/><rect x="361.88" y="358.94" width="18.88" height="13.77" fill="#ffd3d3"/><rect x="379.76" y="358.94" width="18.88" height="13.77" fill="#f6f6ff"/><rect x="397.64" y="358.94" width="18.88" height="13.77" fill="#e5e5ff"/><rect x="415.52" y="358.94" width="18.88" height="13.77" fill="#f6f6ff"/><rect x="433.40" y="358.94" width="18.88" height="13.77" fill="#c1c1ff"/><rect x="451.28" y="358.94" width="18.88" height="13.77" fill="#ffe5e5"/><rect x="469.16" y="358.94" width="18.88" height="13.77" fill="#e5e5ff"/><rect x="487.04" y="358.94" width="18.88" height="13.77" fill="#fff6f6"/><rect x="504.92" y="358.94" width="18.88" height="13.77" fill="#fff6f6"/><rect x="522.80" y="358.94" width="18.88" height="13.77" fill="#ffd3d3"/><rect x="540.68" y="358.94" width="18.88" height="13.77" fill="#ffd3d3"/><rect x="558.56" y="358.94" width="18.88" height="13.77" fill="#8d8dff"/><rect x="576.44" y="358.94" width="18.88" height="13.77" fill="#fff6f6"/><rect x="594.32" y="358.94" width="17.88" height="13.77" fill="#ffd3d3"/><rect x="344.00" y="371.71" width="18.88" height="13.77" fill="#fff6f6"/><rect x="361.88" y="371.71" width="18.88" height="13.77" fill="#ffd3d3"/><rect x="379.76" y="371.71" width="18.88" height="13.77" fill="#c1c1ff"/><rect x="397.64" y="371.71" width="18.88" height="13.77" fill="#f6f6ff"/><rect x="415.52" y="371.71" width="18.88" height="13.77" fill="#ffb0b0"/><rect x="433.40" y="371.71" width="18.88" height="13.77" fill="#ffe5e5"/><rect x="451.28" y="371.71" width="18.88" height="13.77" fill="#ffe5e5"/><rect x="469.16" y="371.71" width="18.88" height="13.77" fill="#e5e5ff"/><rect x="487.04" y="371.71" width="18.88" height="13.77" fill="#ffc1c1"/><rect x="504.92" y="371.71" width="18.88" height="13.77" fill="#ffc1c1"/><rect x="522.80" y="371.71" width="18.88" height="13.77" fill="#f6f6ff"/><rect x="540.68" y="371.71" width="18.88" height="13.77" fill="#b0b0ff"/><rect x="558.56" y="371.71" width="18.88" height="13.77" fill="#f6f6ff"/><rect x="576.44" y="371.71" width="18.88" height="13.77" fill="#ffd3d3"/><rect x="594.32" y="371.71" width="17.88" height="13.77" fill="#fff6f6"/><rect x="344.00" y="384.48" width="18.88" height="13.77" fill="#ffd3d3"/><rect x="361.88" y="384.48" width="18.88" height="13.77" fill="#ff9e9e"/><rect x="379.76" y="384.48" width="18.88" height="13.77" fill="#ffe5e5"/><rect x="397.64" y="384.48" width="18.88" height="13.77" fill="#c1c1ff"/><rect x="415.52" y="384.48" width="18.88" height="13.77" fill="#d3d3ff"/><rect x="433.40" y="384.48" width="18.88" height="13.77" fill="#f6f6ff"/><rect x="451.28" y="384.48" width="18.88" height="13.77" fill="#ffb0b0"/><rect x="469.16" y="384.48" width="18.88" height="13.77" fill="#ffc1c1"/><rect x="487.04" y="384.48" width="18.88" height="13.77" fill="#ffc1c1"/><rect x="504.92" y="384.48" width="18.88" height="13.77" fill="#fff6f6"/><rect x="522.80" y="384.48" width="18.88" height="13.77" fill="#f6f6ff"/><rect x="540.68" y="384.48" width="18.88" height="13.77" fill="#c1c1ff"/><rect x="558.56" y="384.48" width="18.88" height="13.77" fill="#ffc1c1"/><rect x="576.44" y="384.48" width="18.88" height="13.77" fill="#ffe5e5"/><rect x="594.32" y="384.48" width="17.88" height="13.77" fill="#ffb0b0"/><rect x="344.00" y="397.25" width="18.88" height="13.77" fill="#c1c1ff"/><rect x="361.88" y="397.25" width="18.88" height="13.77" fill="#ffd3d3"/><rect x="379.76" y="397.25" width="18.88" height="13.77" fill="#f6f6ff"/><rect x="397.64" y="397.25" width="18.88" height="13.77" fill="#9e9eff"/><rect x="415.52" y="397.25" width="18.88" height="13.77" fill="#e5e5ff"/><rect x="433.40" y="397.25" width="18.88" height="13.77" fill="#ffe5e5"/><rect x="451.28" y="397.25" width="18.88" height="13.77" fill="#ffc1c1"/><rect x="469.16" y="397.25" width="18.88" height="13.77" fill="#ff7b7b"/><rect x="487.04" y="397.25" width="18.88" height="13.77" fill="#ffd3d3"/><rect x="504.92" y="397.25" width="18.88" height="13.77" fill="#ff7b7b"/><rect x="522.80" y="397.25" width="18.88" height="13.77" fill="#ffc1c1"/><rect x="540.68" y="397.25" width="18.88" height="13.77" fill="#d3d3ff"/><rect x="558.56" y="397.25" width="18.88" height="13.77" fill="#f6f6ff"/><rect x="576.44" y="397.25" width="18.88" height="13.77" fill="#ffe5e5"/><rect x="594.32" y="397.25" width="17.88" height="13.77" fill="#ffb0b0"/><rect x="344.00" y="410.02" width="18.88" height="13.77" fill="#c1c1ff"/><rect x="361.88" y="410.02" width="18.88" height="13.77" fill="#d3d3ff"/><rect x="379.76" y="410.02" width="18.88" height="13.77" fill="#c1c1ff"/><rect x="397.64" y="410.02" width="18.88" height="13.77" fill="#9e9eff"/><rect x="415.52" y="410.02" width="18.88" height="13.77" fill="#ffe5e5"/><rect x="433.40" y="410.02" width="18.88" height="13.77" fill="#b0b0ff"/><rect x="451.28" y="410.02" width="18.88" height="13.77" fill="#f6f6ff"/><rect x="469.16" y="410.02" width="18.88" height="13.77" fill="#c1c1ff"/><rect x="487.04" y="410.02" width="18.88" height="13.77" fill="#f6f6ff"/><rect x="504.92" y="410.02" width="18.88" height="13.77" fill="#ffe5e5"/><rect x="522.80" y="410.02" width="18.88" height="13.77" fill="#f6f6ff"/><rect x="540.68" y="410.02" width="18.88" height="13.77" fill="#ffd3d3"/><rect x="558.56" y="410.02" width="18.88" height="13.77" fill="#c1c1ff"/><rect x="576.44" y="410.02" width="18.88" height="13.77" fill="#c1c1ff"/><rect x="594.32" y="410.02" width="17.88" height="13.77" fill="#9e9eff"/><rect x="344.00" y="422.79" width="18.88" height="13.77" fill="#e5e5ff"/><rect x="361.88" y="422.79" width="18.88" height="13.77" fill="#f6f6ff"/><rect x="379.76" y="422.79" width="18.88" height="13.77" fill="#f6f6ff"/><rect x="397.64" y="422.79" width="18.88" height="13.77" fill="#9e9eff"/><rect x="415.52" y="422.79" width="18.88" height="13.77" fill="#f6f6ff"/><rect x="433.40" y="422.79" width="18.88" height="13.77" fill="#e5e5ff"/><rect x="451.28" y="422.79" width="18.88" height="13.77" fill="#f6f6ff"/><rect x="469.16" y="422.79" width="18.88" height="13.77" fill="#ffe5e5"/><rect x="487.04" y="422.79" width="18.88" height="13.77" fill="#9e9eff"/><rect x="504.92" y="422.79" width="18.88" height="13.77" fill="#ffc1c1"/><rect x="522.80" y="422.79" width="18.88" height="13.77" fill="#fff6f6"/><rect x="540.68" y="422.79" width="18.88" height="13.77" fill="#d3d3ff"/><rect x="558.56" y="422.79" width="18.88" height="13.77" fill="#c1c1ff"/><rect x="576.44" y="422.79" width="18.88" height="13.77" fill="#fff6f6"/><rect x="594.32" y="422.79" width="17.88" height="13.77" fill="#9e9eff"/><rect x="344.00" y="435.56" width="18.88" height="13.77" fill="#ff8d8d"/><rect x="361.88" y="435.56" width="18.88" height="13.77" fill="#fff6f6"/><rect x="379.76" y="435.56" width="18.88" height="13.77" fill="#f6f6ff"/><rect x="397.64" y="435.56" width="18.88" height="13.77" fill="#d3d3ff"/><rect x="415.52" y="435.56" width="18.88" height="13.77" fill="#f6f6ff"/><rect x="433.40" y="435.56" width="18.88" height="13.77" fill="#ffd3d3"/><rect x="451.28" y="435.56" width="18.88" height="13.77" fill="#ffc1c1"/><rect x="469.16" y="435.56" width="18.88" height="13.77" fill="#f6f6ff"/><rect x="487.04" y="435.56" width="18.88" height="13.77" fill="#9e9eff"/><rect x="504.92" y="435.56" width="18.88" height="13.77" fill="#e5e5ff"/><rect x="522.80" y="435.56" width="18.88" height="13.77" fill="#d3d3ff"/><rect x="540.68" y="435.56" width="18.88" height="13.77" fill="#c1c1ff"/><rect x="558.56" y="435.56" width="18.88" height="13.77" fill="#ffe5e5"/><rect x="576.44" y="435.56" width="18.88" height="13.77" fill="#c1c1ff"/><rect x="594.32" y="435.56" width="17.88" height="13.77" fill="#9e9eff"/><rect x="344.00" y="448.33" width="18.88" height="13.77" fill="#f6f6ff"/><rect x="361.88" y="448.33" width="18.88" height="13.77" fill="#ffd3d3"/><rect x="379.76" y="448.33" width="18.88" height="13.77" fill="#e5e5ff"/><rect x="397.64" y="448.33" width="18.88" height="13.77" fill="#7b7bff"/><rect x="415.52" y="448.33" width="18.88" height="13.77" fill="#f6f6ff"/><rect x="433.40" y="448.33" width="18.88" height="13.77" fill="#ff9e9e"/><rect x="451.28" y="448.33" width="18.88" height="13.77" fill="#ff8d8d"/><rect x="469.16" y="448.33" width="18.88" height="13.77" fill="#ff8d8d"/><rect x="487.04" y="448.33" width="18.88" height="13.77" fill="#e5e5ff"/><rect x="504.92" y="448.33" width="18.88" height="13.77" fill="#e5e5ff"/><rect x="522.80" y="448.33" width="18.88" height="13.77" fill="#ffd3d3"/><rect x="540.68" y="448.33" width="18.88" height="13.77" fill="#ffc1c1"/><rect x="558.56" y="448.33" width="18.88" height="13.77" fill="#fff6f6"/><rect x="576.44" y="448.33" width="18.88" height="13.77" fill="#9e9eff"/><rect x="594.32" y="448.33" width="17.88" height="13.77" fill="#e5e5ff"/><rect x="344.00" y="461.10" width="18.88" height="13.77" fill="#ffe5e5"/><rect x="361.88" y="461.10" width="18.88" height="13.77" fill="#ffe5e5"/><rect x="379.76" y="461.10" width="18.88" height="13.77" fill="#9e9eff"/><rect x="397.64" y="461.10" width="18.88" height="13.77" fill="#f6f6ff"/><rect x="415.52" y="461.10" width="18.88" height="13.77" fill="#e5e5ff"/><rect x="433.40" y="461.10" width="18.88" height="13.77" fill="#c1c1ff"/><rect x="451.28" y="461.10" width="18.88" height="13.77" fill="#ffc1c1"/><rect x="469.16" y="461.10" width="18.88" height="13.77" fill="#ff9e9e"/><rect x="487.04" y="461.10" width="18.88" height="13.77" fill="#c1c1ff"/><rect x="504.92" y="461.10" width="18.88" height="13.77" fill="#ffe5e5"/><rect x="522.80" y="461.10" width="18.88" height="13.77" fill="#e5e5ff"/><rect x="540.68" y="461.10" width="18.88" height="13.77" fill="#fff6f6"/><rect x="558.56" y="461.10" width="18.88" height="13.77" fill="#fff6f6"/><rect x="576.44" y="461.10" width="18.88" height="13.77" fill="#f6f6ff"/><rect x="594.32" y="461.10" width="17.88" height="13.77" fill="#f6f6ff"/><rect x="344.00" y="473.87" width="18.88" height="13.77" fill="#e5e5ff"/><rect x="361.88" y="473.87" width="18.88" height="13.77" fill="#c1c1ff"/><rect x="379.76" y="473.87" width="18.88" height="13.77" fill="#f6f6ff"/><rect x="397.64" y="473.87" width="18.88" height="13.77" fill="#d3d3ff"/><rect x="415.52" y="473.87" width="18.88" height="13.77" fill="#6a6aff"/><rect x="433.40" y="473.87" width="18.88" height="13.77" fill="#fff6f6"/><rect x="451.28" y="473.87" width="18.88" height="13.77" fill="#fff6f6"/><rect x="469.16" y="473.87" width="18.88" height="13.77" fill="#c1c1ff"/><rect x="487.04" y="473.87" width="18.88" height="13.77" fill="#ffe5e5"/><rect x="504.92" y="473.87" width="18.88" height="13.77" fill="#ffc1c1"/><rect x="522.80" y="473.87" width="18.88" height="13.77" fill="#d3d3ff"/><rect x="540.68" y="473.87" width="18.88" height="13.77" fill="#ffc1c1"/><rect x="558.56" y="473.87" width="18.88" height="13.77" fill="#ffc1c1"/><rect x="576.44" y="473.87" width="18.88" height="13.77" fill="#ffd3d3"/><rect x="594.32" y="473.87" width="17.88" height="13.77" fill="#ffc1c1"/><rect x="344.00" y="486.64" width="18.88" height="13.77" fill="#ffb0b0"/><rect x="361.88" y="486.64" width="18.88" height="13.77" fill="#ff8d8d"/><rect x="379.76" y="486.64" width="18.88" height="13.77" fill="#e5e5ff"/><rect x="397.64" y="486.64" width="18.88" height="13.77" fill="#9e9eff"/><rect x="415.52" y="486.64" width="18.88" height="13.77" fill="#e5e5ff"/><rect x="433.40" y="486.64" width="18.88" height="13.77" fill="#c1c1ff"/><rect x="451.28" y="486.64" width="18.88" height="13.77" fill="#fff6f6"/><rect x="469.16" y="486.64" width="18.88" height="13.77" fill="#e5e5ff"/><rect x="487.04" y="486.64" width="18.88" height="13.77" fill="#ff9e9e"/><rect x="504.92" y="486.64" width="18.88" height="13.77" fill="#fff6f6"/><rect x="522.80" y="486.64" width="18.88" height="13.77" fill="#d3d3ff"/><rect x="540.68" y="486.64" width="18.88" height="13.77" fill="#ffe5e5"/><rect x="558.56" y="486.64" width="18.88" height="13.77" fill="#c1c1ff"/><rect x="576.44" y="486.64" width="18.88" height="13.77" fill="#d3d3ff"/><rect x="594.32" y="486.64" width="17.88" height="13.77" fill="#ffe5e5"/><rect x="344.00" y="499.41" width="18.88" height="13.77" fill="#fff6f6"/><rect x="361.88" y="499.41" width="18.88" height="13.77" fill="#ff9e9e"/><rect x="379.76" y="499.41" width="18.88" height="13.77" fill="#f6f6ff"/><rect x="397.64" y="499.41" width="18.88" height="13.77" fill="#9e9eff"/><rect x="415.52" y="499.41" width="18.88" height="13.77" fill="#e5e5ff"/><rect x="433.40" y="499.41" width="18.88" height="13.77" fill="#ffe5e5"/><rect x="451.28" y="499.41" width="18.88" height="13.77" fill="#ffc1c1"/><rect x="469.16" y="499.41" width="18.88" height="13.77" fill="#ff9e9e"/><rect x="487.04" y="499.41" width="18.88" height="13.77" fill="#ff9e9e"/><rect x="504.92" y="499.41" width="18.88" height="13.77" fill="#ff9e9e"/><rect x="522.80" y="499.41" width="18.88" height="13.77" fill="#fff6f6"/><rect x="540.68" y="499.41" width="18.88" height="13.77" fill="#d3d3ff"/><rect x="558.56" y="499.41" width="18.88" height="13.77" fill="#ffe5e5"/><rect x="576.44" y="499.41" width="18.88" height="13.77" fill="#ffe5e5"/><rect x="594.32" y="499.41" width="17.88" height="13.77" fill="#ff9e9e"/><rect x="344.00" y="512.18" width="18.88" height="13.77" fill="#ffe5e5"/><rect x="361.88" y="512.18" width="18.88" height="13.77" fill="#e5e5ff"/><rect x="379.76" y="512.18" width="18.88" height="13.77" fill="#e5e5ff"/><rect x="397.64" y="512.18" width="18.88" height="13.77" fill="#7b7bff"/><rect x="415.52" y="512.18" width="18.88" height="13.77" fill="#f6f6ff"/><rect x="433.40" y="512.18" width="18.88" height="13.77" fill="#f6f6ff"/><rect x="451.28" y="512.18" width="18.88" height="13.77" fill="#fff6f6"/><rect x="469.16" y="512.18" width="18.88" height="13.77" fill="#d3d3ff"/><rect x="487.04" y="512.18" width="18.88" height="13.77" fill="#d3d3ff"/><rect x="504.92" y="512.18" width="18.88" height="13.77" fill="#f6f6ff"/><rect x="522.80" y="512.18" width="18.88" height="13.77" fill="#e5e5ff"/><rect x="540.68" y="512.18" width="18.88" height="13.77" fill="#ffe5e5"/><rect x="558.56" y="512.18" width="18.88" height="13.77" fill="#c1c1ff"/><rect x="576.44" y="512.18" width="18.88" height="13.77" fill="#c1c1ff"/><rect x="594.32" y="512.18" width="17.88" height="13.77" fill="#8d8dff"/><rect x="344.00" y="524.95" width="18.88" height="12.77" fill="#fff6f6"/><rect x="361.88" y="524.95" width="18.88" height="12.77" fill="#fff6f6"/><rect x="379.76" y="524.95" width="18.88" height="12.77" fill="#c1c1ff"/><rect x="397.64" y="524.95" width="18.88" height="12.77" fill="#b0b0ff"/><rect x="415.52" y="524.95" width="18.88" height="12.77" fill="#b0b0ff"/><rect x="433.40" y="524.95" width="18.88" height="12.77" fill="#ffe5e5"/><rect x="451.28" y="524.95" width="18.88" height="12.77" fill="#ffb0b0"/><rect x="469.16" y="524.95" width="18.88" height="12.77" fill="#ffc1c1"/><rect x="487.04" y="524.95" width="18.88" height="12.77" fill="#f6f6ff"/><rect x="504.92" y="524.95" width="18.88" height="12.77" fill="#ffe5e5"/><rect x="522.80" y="524.95" width="18.88" height="12.77" fill="#f6f6ff"/><rect x="540.68" y="524.95" width="18.88" height="12.77" fill="#ffd3d3"/><rect x="558.56" y="524.95" width="18.88" height="12.77" fill="#ffd3d3"/><rect x="576.44" y="524.95" width="18.88" height="12.77" fill="#f6f6ff"/><rect x="594.32" y="524.95" width="17.88" height="12.77" fill="#fff6f6"/></g><line x1="344.00" y1="486.64" x2="612.20" y2="486.64" stroke="#000" stroke-width="1.7"/><rect x="344.00" y="333.40" width="268.20" height="204.32" fill="none" stroke="#000" stroke-width="1.6"/><path d="M495.43 352.40L495.43 348.25M495.43 352.40L491.44 351.26M495.43 352.40L492.99 355.76M495.43 352.40L497.87 355.76M495.43 352.40L499.42 351.26" stroke="#000" stroke-width="1.5" fill="none"/><circle cx="495.43" cy="352.40" r="1.25"/><path d="M477.55 403.49L477.55 399.34M477.55 403.49L473.56 402.34M477.55 403.49L475.11 406.84M477.55 403.49L479.99 406.84M477.55 403.49L481.54 402.34" stroke="#000" stroke-width="1.5" fill="none"/><circle cx="477.55" cy="403.49" r="1.25"/><path d="M513.31 403.49L513.31 399.34M513.31 403.49L509.32 402.34M513.31 403.49L510.87 406.84M513.31 403.49L515.75 406.84M513.31 403.49L517.30 402.34" stroke="#000" stroke-width="1.5" fill="none"/><circle cx="513.31" cy="403.49" r="1.25"/><path d="M406.03 454.56L406.03 450.42M406.03 454.56L402.04 453.42M406.03 454.56L403.59 457.92M406.03 454.56L408.47 457.92M406.03 454.56L410.02 453.42" stroke="#000" stroke-width="1.5" fill="none"/><circle cx="406.03" cy="454.56" r="1.25"/><path d="M423.91 480.11L423.91 475.96M423.91 480.11L419.92 478.96M423.91 480.11L421.47 483.46M423.91 480.11L426.35 483.46M423.91 480.11L427.90 478.96" stroke="#000" stroke-width="1.5" fill="none"/><circle cx="423.91" cy="480.11" r="1.25"/><line x1="337.80" y1="339.78" x2="344.00" y2="339.78" stroke="#000" stroke-width="1.3"/><text transform="translate(334.00,343.08)" font-size="9.7" text-anchor="end">SETp</text><line x1="337.80" y1="352.55" x2="344.00" y2="352.55" stroke="#000" stroke-width="1.3"/><text transform="translate(334.00,355.85)" font-size="9.7" text-anchor="end">OCTp</text><line x1="337.80" y1="365.32" x2="344.00" y2="365.32" stroke="#000" stroke-width="1.3"/><text transform="translate(334.00,368.62)" font-size="9.7" text-anchor="end">NOVp</text><line x1="337.80" y1="378.09" x2="344.00" y2="378.09" stroke="#000" stroke-width="1.3"/><text transform="translate(334.00,381.39)" font-size="9.7" text-anchor="end">DECp</text><line x1="337.80" y1="390.86" x2="344.00" y2="390.86" stroke="#000" stroke-width="1.3"/><text transform="translate(334.00,394.16)" font-size="9.7" text-anchor="end">JANc</text><line x1="337.80" y1="403.63" x2="344.00" y2="403.63" stroke="#000" stroke-width="1.3"/><text transform="translate(334.00,406.94)" font-size="9.7" text-anchor="end">FEBc</text><line x1="337.80" y1="416.40" x2="344.00" y2="416.40" stroke="#000" stroke-width="1.3"/><text transform="translate(334.00,419.70)" font-size="9.7" text-anchor="end">MARc</text><line x1="337.80" y1="429.17" x2="344.00" y2="429.17" stroke="#000" stroke-width="1.3"/><text transform="translate(334.00,432.47)" font-size="9.7" text-anchor="end">APRc</text><line x1="337.80" y1="441.94" x2="344.00" y2="441.94" stroke="#000" stroke-width="1.3"/><text transform="translate(334.00,445.24)" font-size="9.7" text-anchor="end">MAYc</text><line x1="337.80" y1="454.71" x2="344.00" y2="454.71" stroke="#000" stroke-width="1.3"/><text transform="translate(334.00,458.01)" font-size="9.7" text-anchor="end">JUNc</text><line x1="337.80" y1="467.48" x2="344.00" y2="467.48" stroke="#000" stroke-width="1.3"/><text transform="translate(334.00,470.78)" font-size="9.7" text-anchor="end">JULc</text><line x1="337.80" y1="480.25" x2="344.00" y2="480.25" stroke="#000" stroke-width="1.3"/><text transform="translate(334.00,483.56)" font-size="9.7" text-anchor="end">AUGc</text><line x1="337.80" y1="493.02" x2="344.00" y2="493.02" stroke="#000" stroke-width="1.3"/><text transform="translate(334.00,496.32)" font-size="9.7" text-anchor="end">SONp</text><line x1="337.80" y1="505.79" x2="344.00" y2="505.79" stroke="#000" stroke-width="1.3"/><text transform="translate(334.00,509.09)" font-size="9.7" text-anchor="end">DJF</text><line x1="337.80" y1="518.56" x2="344.00" y2="518.56" stroke="#000" stroke-width="1.3"/><text transform="translate(334.00,521.86)" font-size="9.7" text-anchor="end">MAM</text><line x1="337.80" y1="531.33" x2="344.00" y2="531.33" stroke="#000" stroke-width="1.3"/><text transform="translate(334.00,534.63)" font-size="9.7" text-anchor="end">JJA</text><text transform="translate(357.54,326.20) rotate(-90) scale(1,1.08)" font-size="13.4">RW</text><text transform="translate(375.42,326.20) rotate(-90) scale(1,1.08)" font-size="13.4">RD</text><text transform="translate(393.30,326.20) rotate(-90) scale(1,1.08)" font-size="13.4">Al</text><text transform="translate(411.18,326.20) rotate(-90) scale(1,1.08)" font-size="13.4">P</text><text transform="translate(429.06,326.20) rotate(-90) scale(1,1.08)" font-size="13.4">S</text><text transform="translate(446.94,326.20) rotate(-90) scale(1,1.08)" font-size="13.4">K</text><text transform="translate(464.82,326.20) rotate(-90) scale(1,1.08)" font-size="13.4">Ca</text><text transform="translate(482.70,326.20) rotate(-90) scale(1,1.08)" font-size="13.4">Mn</text><text transform="translate(500.58,326.20) rotate(-90) scale(1,1.08)" font-size="13.4">Fe</text><text transform="translate(518.46,326.20) rotate(-90) scale(1,1.08)" font-size="13.4">Sr</text><text transform="translate(536.34,326.20) rotate(-90) scale(1,1.08)" font-size="13.4">Al/Ca</text><text transform="translate(554.22,326.20) rotate(-90) scale(1,1.08)" font-size="13.4">Ca/Mn</text><text transform="translate(572.10,326.20) rotate(-90) scale(1,1.08)" font-size="13.4">K/Ca</text><text transform="translate(589.98,326.20) rotate(-90) scale(1,1.08)" font-size="13.4">Sr/Ca</text><text transform="translate(607.86,326.20) rotate(-90) scale(1,1.08)" font-size="13.4">Mn/S</text><text transform="translate(481.30,565.00)" font-size="16" text-anchor="middle">SPEI</text><rect x="623.8" y="204.40" width="14.50" height="11.49" fill="#0000ff"/><rect x="623.8" y="215.29" width="14.50" height="6.18" fill="#1212ff"/><rect x="623.8" y="220.87" width="14.50" height="6.18" fill="#2323ff"/><rect x="623.8" y="226.45" width="14.50" height="6.18" fill="#3535ff"/><rect x="623.8" y="232.04" width="14.50" height="6.18" fill="#4646ff"/><rect x="623.8" y="237.62" width="14.50" height="6.18" fill="#5858ff"/><rect x="623.8" y="243.20" width="14.50" height="6.18" fill="#6a6aff"/><rect x="623.8" y="248.79" width="14.50" height="6.18" fill="#7b7bff"/><rect x="623.8" y="254.37" width="14.50" height="6.18" fill="#8d8dff"/><rect x="623.8" y="259.95" width="14.50" height="6.18" fill="#9e9eff"/><rect x="623.8" y="265.53" width="14.50" height="6.18" fill="#b0b0ff"/><rect x="623.8" y="271.12" width="14.50" height="6.18" fill="#c1c1ff"/><rect x="623.8" y="276.70" width="14.50" height="6.18" fill="#d3d3ff"/><rect x="623.8" y="282.28" width="14.50" height="6.18" fill="#e5e5ff"/><rect x="623.8" y="287.87" width="14.50" height="6.18" fill="#f6f6ff"/><rect x="623.8" y="293.45" width="14.50" height="6.18" fill="#fff6f6"/><rect x="623.8" y="299.03" width="14.50" height="6.18" fill="#ffe5e5"/><rect x="623.8" y="304.62" width="14.50" height="6.18" fill="#ffd3d3"/><rect x="623.8" y="310.20" width="14.50" height="6.18" fill="#ffc1c1"/><rect x="623.8" y="315.78" width="14.50" height="6.18" fill="#ffb0b0"/><rect x="623.8" y="321.37" width="14.50" height="6.18" fill="#ff9e9e"/><rect x="623.8" y="326.95" width="14.50" height="6.18" fill="#ff8d8d"/><rect x="623.8" y="332.53" width="14.50" height="6.18" fill="#ff7b7b"/><rect x="623.8" y="338.11" width="14.50" height="6.18" fill="#ff6a6a"/><rect x="623.8" y="343.70" width="14.50" height="6.18" fill="#ff5858"/><rect x="623.8" y="349.28" width="14.50" height="6.18" fill="#ff4646"/><rect x="623.8" y="354.86" width="14.50" height="6.18" fill="#ff3535"/><rect x="623.8" y="360.45" width="14.50" height="6.18" fill="#ff2323"/><rect x="623.8" y="366.03" width="14.50" height="6.18" fill="#ff1212"/><rect x="623.8" y="371.61" width="14.50" height="10.99" fill="#ff0000"/><rect x="623.8" y="204.4" width="14.50" height="178.20" fill="none" stroke="#000" stroke-width="2.2" stroke-linejoin="round"/><line x1="639.30" y1="209.70" x2="644.80" y2="209.70" stroke="#000" stroke-width="1.3"/><text transform="translate(650.2,213.80) scale(1,1.05)" font-size="12.15">0.50</text><line x1="639.30" y1="243.20" x2="644.80" y2="243.20" stroke="#000" stroke-width="1.3"/><text transform="translate(650.2,247.30) scale(1,1.05)" font-size="12.15">0.30</text><line x1="639.30" y1="276.70" x2="644.80" y2="276.70" stroke="#000" stroke-width="1.3"/><text transform="translate(650.2,280.80) scale(1,1.05)" font-size="12.15">0.10</text><line x1="639.30" y1="310.20" x2="644.80" y2="310.20" stroke="#000" stroke-width="1.3"/><text transform="translate(650.2,314.30) scale(1,1.05)" font-size="12.15">-0.10</text><line x1="639.30" y1="343.70" x2="644.80" y2="343.70" stroke="#000" stroke-width="1.3"/><text transform="translate(650.2,347.80) scale(1,1.05)" font-size="12.15">-0.30</text><line x1="639.30" y1="377.20" x2="644.80" y2="377.20" stroke="#000" stroke-width="1.3"/><text transform="translate(650.2,381.30) scale(1,1.05)" font-size="12.15">-0.50</text><text x="652" y="154.90" font-size="13.6" text-anchor="middle">Correlation</text><text x="652" y="171.40" font-size="13.6" text-anchor="middle">coefficient</text><text x="652" y="187.90" font-size="13.6" text-anchor="middle">(*p&lt;0.05)</text></svg></body></html>
